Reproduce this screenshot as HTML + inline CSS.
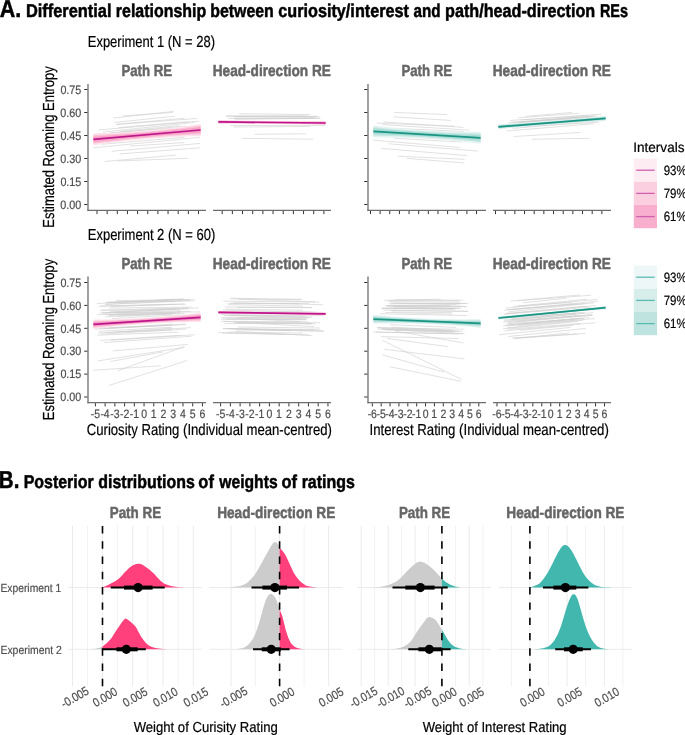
<!DOCTYPE html>
<html><head><meta charset="utf-8"><style>
html,body{margin:0;padding:0;background:#fff;}
svg{display:block;will-change:transform;}
text{font-family:"Liberation Sans", sans-serif;text-rendering:geometricPrecision;}
</style></head><body>
<svg width="685" height="735" viewBox="0 0 685 735">
<rect width="685" height="735" fill="#fff"/>
<text x="-0.34" y="16.7" font-size="24.5" font-weight="bold" stroke="#000" stroke-width="0.5" stroke-linejoin="round" fill="#000" textLength="21.52" lengthAdjust="spacingAndGlyphs">A.</text>
<text x="25.9" y="16.7" font-size="18.5" font-weight="bold" stroke="#000" stroke-width="0.5" stroke-linejoin="round" fill="#000" textLength="85.66" lengthAdjust="spacingAndGlyphs">Differential</text>
<text x="115.85" y="16.7" font-size="18.5" font-weight="bold" stroke="#000" stroke-width="0.5" stroke-linejoin="round" fill="#000" textLength="90.3" lengthAdjust="spacingAndGlyphs">relationship</text>
<text x="210.25" y="16.7" font-size="18.5" font-weight="bold" stroke="#000" stroke-width="0.5" stroke-linejoin="round" fill="#000" textLength="63.53" lengthAdjust="spacingAndGlyphs">between</text>
<text x="278.37" y="16.7" font-size="18.5" font-weight="bold" stroke="#000" stroke-width="0.5" stroke-linejoin="round" fill="#000" textLength="130.53" lengthAdjust="spacingAndGlyphs">curiosity/interest</text>
<text x="413.55" y="16.7" font-size="18.5" font-weight="bold" stroke="#000" stroke-width="0.5" stroke-linejoin="round" fill="#000" textLength="27.05" lengthAdjust="spacingAndGlyphs">and</text>
<text x="445.03" y="16.7" font-size="18.5" font-weight="bold" stroke="#000" stroke-width="0.5" stroke-linejoin="round" fill="#000" textLength="150.17" lengthAdjust="spacingAndGlyphs">path/head-direction</text>
<text x="599.94" y="16.7" font-size="18.5" font-weight="bold" stroke="#000" stroke-width="0.5" stroke-linejoin="round" fill="#000" textLength="28.06" lengthAdjust="spacingAndGlyphs">REs</text>
<text x="-1.18" y="488.3" font-size="24.5" font-weight="bold" stroke="#000" stroke-width="0.5" stroke-linejoin="round" fill="#000" textLength="20.6" lengthAdjust="spacingAndGlyphs">B.</text>
<text x="23.63" y="488.3" font-size="18.5" font-weight="bold" stroke="#000" stroke-width="0.5" stroke-linejoin="round" fill="#000" textLength="70.11" lengthAdjust="spacingAndGlyphs">Posterior</text>
<text x="98.35" y="488.3" font-size="18.5" font-weight="bold" stroke="#000" stroke-width="0.5" stroke-linejoin="round" fill="#000" textLength="96.41" lengthAdjust="spacingAndGlyphs">distributions</text>
<text x="198.36" y="488.3" font-size="18.5" font-weight="bold" stroke="#000" stroke-width="0.5" stroke-linejoin="round" fill="#000" textLength="15.51" lengthAdjust="spacingAndGlyphs">of</text>
<text x="219.25" y="488.3" font-size="18.5" font-weight="bold" stroke="#000" stroke-width="0.5" stroke-linejoin="round" fill="#000" textLength="58.4" lengthAdjust="spacingAndGlyphs">weights</text>
<text x="281.56" y="488.3" font-size="18.5" font-weight="bold" stroke="#000" stroke-width="0.5" stroke-linejoin="round" fill="#000" textLength="15.51" lengthAdjust="spacingAndGlyphs">of</text>
<text x="301.65" y="488.3" font-size="18.5" font-weight="bold" stroke="#000" stroke-width="0.5" stroke-linejoin="round" fill="#000" textLength="53.21" lengthAdjust="spacingAndGlyphs">ratings</text>
<line x1="113.4" y1="118.03" x2="173.84" y2="111.37" stroke="#cdcdcd" stroke-width="0.6"/>
<line x1="123.04" y1="115.93" x2="172.97" y2="112.42" stroke="#cdcdcd" stroke-width="0.6"/>
<line x1="114.28" y1="122.41" x2="174.72" y2="116.28" stroke="#cdcdcd" stroke-width="0.6"/>
<line x1="98.51" y1="129.94" x2="199.25" y2="121.18" stroke="#cdcdcd" stroke-width="0.6"/>
<line x1="102.89" y1="132.05" x2="194.87" y2="122.41" stroke="#cdcdcd" stroke-width="0.6"/>
<line x1="118.66" y1="127.67" x2="188.74" y2="121.53" stroke="#cdcdcd" stroke-width="0.6"/>
<line x1="105.52" y1="133.8" x2="186.11" y2="125.91" stroke="#cdcdcd" stroke-width="0.6"/>
<line x1="93.26" y1="147.81" x2="200.12" y2="137.3" stroke="#cdcdcd" stroke-width="0.6"/>
<line x1="101.14" y1="144.31" x2="184.36" y2="137.3" stroke="#cdcdcd" stroke-width="0.6"/>
<line x1="111.65" y1="151.32" x2="200.12" y2="143.43" stroke="#cdcdcd" stroke-width="0.6"/>
<line x1="119.53" y1="153.95" x2="200.12" y2="147.81" stroke="#cdcdcd" stroke-width="0.6"/>
<line x1="130.05" y1="146.06" x2="184.36" y2="142.56" stroke="#cdcdcd" stroke-width="0.6"/>
<line x1="104.64" y1="161.48" x2="175.6" y2="155.17" stroke="#cdcdcd" stroke-width="0.6"/>
<line x1="117.78" y1="160.95" x2="187.86" y2="158.33" stroke="#cdcdcd" stroke-width="0.6"/>
<line x1="109.64" y1="132.83" x2="188.23" y2="127.23" stroke="#cdcdcd" stroke-width="0.6"/>
<line x1="116.98" y1="124.16" x2="184.74" y2="118.27" stroke="#cdcdcd" stroke-width="0.6"/>
<line x1="119.62" y1="131.51" x2="178.74" y2="125.7" stroke="#cdcdcd" stroke-width="0.6"/>
<line x1="115.88" y1="124.55" x2="197.3" y2="118.45" stroke="#cdcdcd" stroke-width="0.6"/>
<line x1="113.35" y1="137.95" x2="195.31" y2="131.41" stroke="#cdcdcd" stroke-width="0.6"/>
<line x1="115.87" y1="138.26" x2="195.12" y2="132.96" stroke="#cdcdcd" stroke-width="0.6"/>
<path d="M93.4,133.4 L98.76,133.27 L104.12,133.11 L109.48,132.91 L114.84,132.67 L120.2,132.4 L125.56,132.09 L130.92,131.75 L136.28,131.37 L141.64,130.95 L147,130.5 L152.36,130.01 L157.72,129.49 L163.08,128.93 L168.44,128.33 L173.8,127.7 L179.16,127.03 L184.52,126.33 L189.88,125.59 L195.24,124.81 L200.6,124 L200.6,136 L195.24,136.13 L189.88,136.29 L184.52,136.49 L179.16,136.73 L173.8,137 L168.44,137.31 L163.08,137.65 L157.72,138.03 L152.36,138.45 L147,138.9 L141.64,139.39 L136.28,139.91 L130.92,140.47 L125.56,141.07 L120.2,141.7 L114.84,142.37 L109.48,143.07 L104.12,143.81 L98.76,144.59 L93.4,145.4Z" fill="#fde3ec"/>
<path d="M93.4,135 L98.76,134.8 L104.12,134.56 L109.48,134.3 L114.84,134.02 L120.2,133.7 L125.56,133.36 L130.92,132.98 L136.28,132.58 L141.64,132.16 L147,131.7 L152.36,131.22 L157.72,130.7 L163.08,130.16 L168.44,129.6 L173.8,129 L179.16,128.38 L184.52,127.72 L189.88,127.04 L195.24,126.34 L200.6,125.6 L200.6,134.4 L195.24,134.6 L189.88,134.84 L184.52,135.1 L179.16,135.38 L173.8,135.7 L168.44,136.04 L163.08,136.42 L157.72,136.82 L152.36,137.24 L147,137.7 L141.64,138.18 L136.28,138.7 L130.92,139.24 L125.56,139.8 L120.2,140.4 L114.84,141.02 L109.48,141.68 L104.12,142.36 L98.76,143.06 L93.4,143.8Z" fill="#fbc3d8"/>
<path d="M93.4,136.5 L98.76,136.2 L104.12,135.88 L109.48,135.55 L114.84,135.2 L120.2,134.83 L125.56,134.44 L130.92,134.03 L136.28,133.6 L141.64,133.16 L147,132.7 L152.36,132.22 L157.72,131.72 L163.08,131.21 L168.44,130.68 L173.8,130.12 L179.16,129.56 L184.52,128.97 L189.88,128.36 L195.24,127.74 L200.6,127.1 L200.6,132.9 L195.24,133.2 L189.88,133.52 L184.52,133.85 L179.16,134.2 L173.8,134.57 L168.44,134.96 L163.08,135.37 L157.72,135.8 L152.36,136.24 L147,136.7 L141.64,137.18 L136.28,137.68 L130.92,138.19 L125.56,138.72 L120.2,139.28 L114.84,139.84 L109.48,140.43 L104.12,141.04 L98.76,141.66 L93.4,142.3Z" fill="#f7a4c6"/>
<line x1="93.4" y1="139.4" x2="200.6" y2="130" stroke="#be158c" stroke-width="1.7"/>
<line x1="88" y1="84" x2="88" y2="210.9" stroke="#6e6e6e" stroke-width="1.3"/>
<line x1="84.2" y1="204.5" x2="87.4" y2="204.5" stroke="#333333" stroke-width="1"/>
<line x1="84.2" y1="181.5" x2="87.4" y2="181.5" stroke="#333333" stroke-width="1"/>
<line x1="84.2" y1="158.5" x2="87.4" y2="158.5" stroke="#333333" stroke-width="1"/>
<line x1="84.2" y1="135.5" x2="87.4" y2="135.5" stroke="#333333" stroke-width="1"/>
<line x1="84.2" y1="112.5" x2="87.4" y2="112.5" stroke="#333333" stroke-width="1"/>
<line x1="84.2" y1="89.5" x2="87.4" y2="89.5" stroke="#333333" stroke-width="1"/>
<line x1="87.4" y1="210.3" x2="206" y2="210.3" stroke="#6e6e6e" stroke-width="1.3"/>
<line x1="97" y1="210.9" x2="97" y2="214.1" stroke="#333333" stroke-width="1"/>
<line x1="107.15" y1="210.9" x2="107.15" y2="214.1" stroke="#333333" stroke-width="1"/>
<line x1="117.3" y1="210.9" x2="117.3" y2="214.1" stroke="#333333" stroke-width="1"/>
<line x1="127.45" y1="210.9" x2="127.45" y2="214.1" stroke="#333333" stroke-width="1"/>
<line x1="137.6" y1="210.9" x2="137.6" y2="214.1" stroke="#333333" stroke-width="1"/>
<line x1="147.75" y1="210.9" x2="147.75" y2="214.1" stroke="#333333" stroke-width="1"/>
<line x1="157.9" y1="210.9" x2="157.9" y2="214.1" stroke="#333333" stroke-width="1"/>
<line x1="168.05" y1="210.9" x2="168.05" y2="214.1" stroke="#333333" stroke-width="1"/>
<line x1="178.2" y1="210.9" x2="178.2" y2="214.1" stroke="#333333" stroke-width="1"/>
<line x1="188.35" y1="210.9" x2="188.35" y2="214.1" stroke="#333333" stroke-width="1"/>
<line x1="198.5" y1="210.9" x2="198.5" y2="214.1" stroke="#333333" stroke-width="1"/>
<text x="60.35" y="208.7" font-size="12.2" stroke="#4d4d4d" stroke-width="0.2" stroke-linejoin="round" fill="#4d4d4d" textLength="20.97" lengthAdjust="spacingAndGlyphs">0.00</text>
<text x="60.39" y="185.7" font-size="12.2" stroke="#4d4d4d" stroke-width="0.2" stroke-linejoin="round" fill="#4d4d4d" textLength="20.97" lengthAdjust="spacingAndGlyphs">0.15</text>
<text x="60.35" y="162.7" font-size="12.2" stroke="#4d4d4d" stroke-width="0.2" stroke-linejoin="round" fill="#4d4d4d" textLength="20.97" lengthAdjust="spacingAndGlyphs">0.30</text>
<text x="60.39" y="139.7" font-size="12.2" stroke="#4d4d4d" stroke-width="0.2" stroke-linejoin="round" fill="#4d4d4d" textLength="20.97" lengthAdjust="spacingAndGlyphs">0.45</text>
<text x="60.35" y="116.7" font-size="12.2" stroke="#4d4d4d" stroke-width="0.2" stroke-linejoin="round" fill="#4d4d4d" textLength="20.97" lengthAdjust="spacingAndGlyphs">0.60</text>
<text x="60.39" y="93.7" font-size="12.2" stroke="#4d4d4d" stroke-width="0.2" stroke-linejoin="round" fill="#4d4d4d" textLength="20.97" lengthAdjust="spacingAndGlyphs">0.75</text>
<line x1="239.2" y1="113.69" x2="310.36" y2="114.6" stroke="#cdcdcd" stroke-width="0.6"/>
<line x1="227.34" y1="118.25" x2="320.4" y2="118.25" stroke="#cdcdcd" stroke-width="0.6"/>
<line x1="233.72" y1="116.79" x2="315.84" y2="117.34" stroke="#cdcdcd" stroke-width="0.6"/>
<line x1="230.07" y1="125.55" x2="324.96" y2="125.55" stroke="#cdcdcd" stroke-width="0.6"/>
<line x1="233.72" y1="127.01" x2="310.36" y2="126.46" stroke="#cdcdcd" stroke-width="0.6"/>
<line x1="254.71" y1="134.31" x2="305.8" y2="133.76" stroke="#cdcdcd" stroke-width="0.6"/>
<line x1="241.93" y1="138.32" x2="313.1" y2="139.23" stroke="#cdcdcd" stroke-width="0.6"/>
<line x1="233.76" y1="118.69" x2="320.18" y2="118.22" stroke="#cdcdcd" stroke-width="0.6"/>
<line x1="225.47" y1="116.05" x2="307.26" y2="115.83" stroke="#cdcdcd" stroke-width="0.6"/>
<line x1="226.57" y1="116.12" x2="319.21" y2="116.35" stroke="#cdcdcd" stroke-width="0.6"/>
<line x1="235.21" y1="119.25" x2="313.32" y2="118.47" stroke="#cdcdcd" stroke-width="0.6"/>
<line x1="236.97" y1="116.35" x2="317.72" y2="116.61" stroke="#cdcdcd" stroke-width="0.6"/>
<path d="M218.4,119.9 L223.76,120.05 L229.12,120.19 L234.48,120.32 L239.84,120.44 L245.2,120.55 L250.56,120.65 L255.92,120.74 L261.28,120.82 L266.64,120.89 L272,120.95 L277.36,121 L282.72,121.04 L288.08,121.07 L293.44,121.09 L298.8,121.1 L304.16,121.1 L309.52,121.09 L314.88,121.07 L320.24,121.04 L325.6,121 L325.6,125 L320.24,124.85 L314.88,124.71 L309.52,124.58 L304.16,124.46 L298.8,124.35 L293.44,124.25 L288.08,124.16 L282.72,124.08 L277.36,124.01 L272,123.95 L266.64,123.9 L261.28,123.86 L255.92,123.83 L250.56,123.81 L245.2,123.8 L239.84,123.8 L234.48,123.81 L229.12,123.83 L223.76,123.86 L218.4,123.9Z" fill="#fde3ec"/>
<path d="M218.4,120.5 L223.76,120.61 L229.12,120.72 L234.48,120.82 L239.84,120.91 L245.2,121 L250.56,121.08 L255.92,121.16 L261.28,121.23 L266.64,121.29 L272,121.35 L277.36,121.4 L282.72,121.45 L288.08,121.49 L293.44,121.52 L298.8,121.55 L304.16,121.57 L309.52,121.59 L314.88,121.6 L320.24,121.6 L325.6,121.6 L325.6,124.4 L320.24,124.29 L314.88,124.18 L309.52,124.08 L304.16,123.99 L298.8,123.9 L293.44,123.82 L288.08,123.74 L282.72,123.67 L277.36,123.61 L272,123.55 L266.64,123.5 L261.28,123.45 L255.92,123.41 L250.56,123.38 L245.2,123.35 L239.84,123.33 L234.48,123.31 L229.12,123.3 L223.76,123.3 L218.4,123.3Z" fill="#fbc3d8"/>
<path d="M218.4,120.9 L223.76,120.99 L229.12,121.08 L234.48,121.17 L239.84,121.25 L245.2,121.33 L250.56,121.4 L255.92,121.47 L261.28,121.53 L266.64,121.59 L272,121.65 L277.36,121.7 L282.72,121.75 L288.08,121.8 L293.44,121.84 L298.8,121.88 L304.16,121.91 L309.52,121.94 L314.88,121.96 L320.24,121.98 L325.6,122 L325.6,124 L320.24,123.91 L314.88,123.82 L309.52,123.73 L304.16,123.65 L298.8,123.57 L293.44,123.5 L288.08,123.43 L282.72,123.37 L277.36,123.31 L272,123.25 L266.64,123.2 L261.28,123.15 L255.92,123.1 L250.56,123.06 L245.2,123.03 L239.84,122.99 L234.48,122.96 L229.12,122.94 L223.76,122.92 L218.4,122.9Z" fill="#f7a4c6"/>
<line x1="218.4" y1="121.9" x2="325.6" y2="123" stroke="#be158c" stroke-width="1.7"/>
<line x1="213" y1="210.3" x2="331" y2="210.3" stroke="#6e6e6e" stroke-width="1.3"/>
<line x1="222.2" y1="210.9" x2="222.2" y2="214.1" stroke="#333333" stroke-width="1"/>
<line x1="232.37" y1="210.9" x2="232.37" y2="214.1" stroke="#333333" stroke-width="1"/>
<line x1="242.54" y1="210.9" x2="242.54" y2="214.1" stroke="#333333" stroke-width="1"/>
<line x1="252.71" y1="210.9" x2="252.71" y2="214.1" stroke="#333333" stroke-width="1"/>
<line x1="262.88" y1="210.9" x2="262.88" y2="214.1" stroke="#333333" stroke-width="1"/>
<line x1="273.05" y1="210.9" x2="273.05" y2="214.1" stroke="#333333" stroke-width="1"/>
<line x1="283.22" y1="210.9" x2="283.22" y2="214.1" stroke="#333333" stroke-width="1"/>
<line x1="293.39" y1="210.9" x2="293.39" y2="214.1" stroke="#333333" stroke-width="1"/>
<line x1="303.56" y1="210.9" x2="303.56" y2="214.1" stroke="#333333" stroke-width="1"/>
<line x1="313.73" y1="210.9" x2="313.73" y2="214.1" stroke="#333333" stroke-width="1"/>
<line x1="323.9" y1="210.9" x2="323.9" y2="214.1" stroke="#333333" stroke-width="1"/>
<line x1="394.2" y1="112.41" x2="447.12" y2="114.6" stroke="#cdcdcd" stroke-width="0.6"/>
<line x1="393.28" y1="116.79" x2="450.77" y2="120.44" stroke="#cdcdcd" stroke-width="0.6"/>
<line x1="383.25" y1="121.9" x2="463.54" y2="127.37" stroke="#cdcdcd" stroke-width="0.6"/>
<line x1="382.34" y1="124.64" x2="469.01" y2="130.11" stroke="#cdcdcd" stroke-width="0.6"/>
<line x1="394.2" y1="138.32" x2="461.72" y2="141.97" stroke="#cdcdcd" stroke-width="0.6"/>
<line x1="373.21" y1="140.15" x2="459.89" y2="147.45" stroke="#cdcdcd" stroke-width="0.6"/>
<line x1="388.72" y1="143.8" x2="478.14" y2="151.09" stroke="#cdcdcd" stroke-width="0.6"/>
<line x1="381.42" y1="148.36" x2="467.19" y2="155.66" stroke="#cdcdcd" stroke-width="0.6"/>
<line x1="397.85" y1="156.2" x2="464.45" y2="159.31" stroke="#cdcdcd" stroke-width="0.6"/>
<line x1="406.97" y1="158.39" x2="464.45" y2="162.96" stroke="#cdcdcd" stroke-width="0.6"/>
<line x1="376.32" y1="132.94" x2="470.63" y2="136.72" stroke="#cdcdcd" stroke-width="0.6"/>
<line x1="376.49" y1="131.93" x2="457.44" y2="136.75" stroke="#cdcdcd" stroke-width="0.6"/>
<line x1="394.51" y1="128.39" x2="463.83" y2="131.53" stroke="#cdcdcd" stroke-width="0.6"/>
<line x1="384.58" y1="133.75" x2="469.14" y2="138.46" stroke="#cdcdcd" stroke-width="0.6"/>
<line x1="376.55" y1="123.11" x2="454.13" y2="126.23" stroke="#cdcdcd" stroke-width="0.6"/>
<path d="M373.4,125.4 L378.76,126.06 L384.12,126.69 L389.48,127.28 L394.84,127.83 L400.2,128.35 L405.56,128.83 L410.92,129.28 L416.28,129.69 L421.64,130.06 L427,130.4 L432.36,130.7 L437.72,130.97 L443.08,131.2 L448.44,131.39 L453.8,131.55 L459.16,131.67 L464.52,131.76 L469.88,131.81 L475.24,131.82 L480.6,131.8 L480.6,143.8 L475.24,143.14 L469.88,142.51 L464.52,141.92 L459.16,141.37 L453.8,140.85 L448.44,140.37 L443.08,139.92 L437.72,139.51 L432.36,139.14 L427,138.8 L421.64,138.5 L416.28,138.23 L410.92,138 L405.56,137.81 L400.2,137.65 L394.84,137.53 L389.48,137.44 L384.12,137.39 L378.76,137.38 L373.4,137.4Z" fill="#e5f4f2"/>
<path d="M373.4,127 L378.76,127.59 L384.12,128.14 L389.48,128.67 L394.84,129.18 L400.2,129.65 L405.56,130.1 L410.92,130.51 L416.28,130.9 L421.64,131.27 L427,131.6 L432.36,131.91 L437.72,132.18 L443.08,132.43 L448.44,132.66 L453.8,132.85 L459.16,133.02 L464.52,133.15 L469.88,133.26 L475.24,133.35 L480.6,133.4 L480.6,142.2 L475.24,141.61 L469.88,141.06 L464.52,140.53 L459.16,140.02 L453.8,139.55 L448.44,139.1 L443.08,138.69 L437.72,138.3 L432.36,137.93 L427,137.6 L421.64,137.29 L416.28,137.02 L410.92,136.77 L405.56,136.54 L400.2,136.35 L394.84,136.18 L389.48,136.05 L384.12,135.94 L378.76,135.85 L373.4,135.8Z" fill="#c8e8e4"/>
<path d="M373.4,128.5 L378.76,128.99 L384.12,129.46 L389.48,129.92 L394.84,130.36 L400.2,130.78 L405.56,131.18 L410.92,131.56 L416.28,131.92 L421.64,132.27 L427,132.6 L432.36,132.91 L437.72,133.2 L443.08,133.48 L448.44,133.74 L453.8,133.98 L459.16,134.2 L464.52,134.4 L469.88,134.58 L475.24,134.75 L480.6,134.9 L480.6,140.7 L475.24,140.21 L469.88,139.74 L464.52,139.28 L459.16,138.84 L453.8,138.43 L448.44,138.02 L443.08,137.64 L437.72,137.28 L432.36,136.93 L427,136.6 L421.64,136.29 L416.28,136 L410.92,135.72 L405.56,135.46 L400.2,135.22 L394.84,135 L389.48,134.8 L384.12,134.62 L378.76,134.45 L373.4,134.3Z" fill="#a9dcd5"/>
<line x1="373.4" y1="131.4" x2="480.6" y2="137.8" stroke="#1a9483" stroke-width="1.7"/>
<line x1="368" y1="84" x2="368" y2="210.9" stroke="#6e6e6e" stroke-width="1.3"/>
<line x1="364.2" y1="204.5" x2="367.4" y2="204.5" stroke="#333333" stroke-width="1"/>
<line x1="364.2" y1="181.5" x2="367.4" y2="181.5" stroke="#333333" stroke-width="1"/>
<line x1="364.2" y1="158.5" x2="367.4" y2="158.5" stroke="#333333" stroke-width="1"/>
<line x1="364.2" y1="135.5" x2="367.4" y2="135.5" stroke="#333333" stroke-width="1"/>
<line x1="364.2" y1="112.5" x2="367.4" y2="112.5" stroke="#333333" stroke-width="1"/>
<line x1="364.2" y1="89.5" x2="367.4" y2="89.5" stroke="#333333" stroke-width="1"/>
<line x1="367.4" y1="210.3" x2="486" y2="210.3" stroke="#6e6e6e" stroke-width="1.3"/>
<line x1="370.5" y1="210.9" x2="370.5" y2="214.1" stroke="#333333" stroke-width="1"/>
<line x1="380.14" y1="210.9" x2="380.14" y2="214.1" stroke="#333333" stroke-width="1"/>
<line x1="389.78" y1="210.9" x2="389.78" y2="214.1" stroke="#333333" stroke-width="1"/>
<line x1="399.42" y1="210.9" x2="399.42" y2="214.1" stroke="#333333" stroke-width="1"/>
<line x1="409.06" y1="210.9" x2="409.06" y2="214.1" stroke="#333333" stroke-width="1"/>
<line x1="418.7" y1="210.9" x2="418.7" y2="214.1" stroke="#333333" stroke-width="1"/>
<line x1="428.34" y1="210.9" x2="428.34" y2="214.1" stroke="#333333" stroke-width="1"/>
<line x1="437.98" y1="210.9" x2="437.98" y2="214.1" stroke="#333333" stroke-width="1"/>
<line x1="447.62" y1="210.9" x2="447.62" y2="214.1" stroke="#333333" stroke-width="1"/>
<line x1="457.26" y1="210.9" x2="457.26" y2="214.1" stroke="#333333" stroke-width="1"/>
<line x1="466.9" y1="210.9" x2="466.9" y2="214.1" stroke="#333333" stroke-width="1"/>
<line x1="476.54" y1="210.9" x2="476.54" y2="214.1" stroke="#333333" stroke-width="1"/>
<line x1="525.58" y1="116.42" x2="572.12" y2="112.41" stroke="#cdcdcd" stroke-width="0.6"/>
<line x1="510.07" y1="120.44" x2="601.31" y2="114.23" stroke="#cdcdcd" stroke-width="0.6"/>
<line x1="521.02" y1="120.07" x2="588.54" y2="115.51" stroke="#cdcdcd" stroke-width="0.6"/>
<line x1="506.42" y1="131.02" x2="594.01" y2="123.72" stroke="#cdcdcd" stroke-width="0.6"/>
<line x1="513.72" y1="136.5" x2="580.33" y2="132.48" stroke="#cdcdcd" stroke-width="0.6"/>
<line x1="531.97" y1="139.23" x2="589.45" y2="138.32" stroke="#cdcdcd" stroke-width="0.6"/>
<line x1="519.86" y1="122.02" x2="579.13" y2="116.83" stroke="#cdcdcd" stroke-width="0.6"/>
<line x1="510.38" y1="122.22" x2="590.16" y2="117.25" stroke="#cdcdcd" stroke-width="0.6"/>
<line x1="518.51" y1="117.7" x2="578.73" y2="113.4" stroke="#cdcdcd" stroke-width="0.6"/>
<line x1="507.37" y1="123.2" x2="596.81" y2="115.87" stroke="#cdcdcd" stroke-width="0.6"/>
<line x1="524.56" y1="126.51" x2="598.09" y2="122.3" stroke="#cdcdcd" stroke-width="0.6"/>
<line x1="519.52" y1="124.31" x2="593.09" y2="117.99" stroke="#cdcdcd" stroke-width="0.6"/>
<line x1="519.18" y1="126.69" x2="588.79" y2="120.62" stroke="#cdcdcd" stroke-width="0.6"/>
<line x1="512.86" y1="123.35" x2="602.15" y2="116.78" stroke="#cdcdcd" stroke-width="0.6"/>
<line x1="512.63" y1="128.4" x2="600.96" y2="120.86" stroke="#cdcdcd" stroke-width="0.6"/>
<line x1="518.47" y1="122.58" x2="593.75" y2="115.81" stroke="#cdcdcd" stroke-width="0.6"/>
<line x1="512.38" y1="124.94" x2="593.11" y2="117.9" stroke="#cdcdcd" stroke-width="0.6"/>
<path d="M498.4,124.2 L503.76,123.93 L509.12,123.65 L514.48,123.35 L519.84,123.03 L525.2,122.7 L530.56,122.35 L535.92,121.99 L541.28,121.61 L546.64,121.21 L552,120.8 L557.36,120.37 L562.72,119.93 L568.08,119.47 L573.44,118.99 L578.8,118.5 L584.16,117.99 L589.52,117.47 L594.88,116.93 L600.24,116.37 L605.6,115.8 L605.6,121 L600.24,121.27 L594.88,121.55 L589.52,121.85 L584.16,122.17 L578.8,122.5 L573.44,122.85 L568.08,123.21 L562.72,123.59 L557.36,123.99 L552,124.4 L546.64,124.83 L541.28,125.27 L535.92,125.73 L530.56,126.21 L525.2,126.7 L519.84,127.21 L514.48,127.73 L509.12,128.27 L503.76,128.83 L498.4,129.4Z" fill="#e5f4f2"/>
<path d="M498.4,125 L503.76,124.67 L509.12,124.34 L514.48,123.99 L519.84,123.64 L525.2,123.28 L530.56,122.9 L535.92,122.52 L541.28,122.12 L546.64,121.71 L552,121.3 L557.36,120.88 L562.72,120.44 L568.08,120 L573.44,119.54 L578.8,119.08 L584.16,118.6 L589.52,118.12 L594.88,117.62 L600.24,117.12 L605.6,116.6 L605.6,120.2 L600.24,120.53 L594.88,120.86 L589.52,121.21 L584.16,121.56 L578.8,121.92 L573.44,122.3 L568.08,122.69 L562.72,123.08 L557.36,123.49 L552,123.9 L546.64,124.33 L541.28,124.76 L535.92,125.2 L530.56,125.66 L525.2,126.12 L519.84,126.6 L514.48,127.08 L509.12,127.58 L503.76,128.09 L498.4,128.6Z" fill="#c8e8e4"/>
<path d="M498.4,125.6 L503.76,125.24 L509.12,124.87 L514.48,124.49 L519.84,124.11 L525.2,123.73 L530.56,123.33 L535.92,122.93 L541.28,122.53 L546.64,122.12 L552,121.7 L557.36,121.28 L562.72,120.85 L568.08,120.41 L573.44,119.97 L578.8,119.53 L584.16,119.07 L589.52,118.61 L594.88,118.15 L600.24,117.68 L605.6,117.2 L605.6,119.6 L600.24,119.96 L594.88,120.33 L589.52,120.71 L584.16,121.09 L578.8,121.47 L573.44,121.87 L568.08,122.27 L562.72,122.67 L557.36,123.08 L552,123.5 L546.64,123.92 L541.28,124.35 L535.92,124.79 L530.56,125.23 L525.2,125.67 L519.84,126.13 L514.48,126.59 L509.12,127.05 L503.76,127.52 L498.4,128Z" fill="#a9dcd5"/>
<line x1="498.4" y1="126.8" x2="605.6" y2="118.4" stroke="#1a9483" stroke-width="1.7"/>
<line x1="493" y1="210.3" x2="611" y2="210.3" stroke="#6e6e6e" stroke-width="1.3"/>
<line x1="495.5" y1="210.9" x2="495.5" y2="214.1" stroke="#333333" stroke-width="1"/>
<line x1="505.17" y1="210.9" x2="505.17" y2="214.1" stroke="#333333" stroke-width="1"/>
<line x1="514.84" y1="210.9" x2="514.84" y2="214.1" stroke="#333333" stroke-width="1"/>
<line x1="524.51" y1="210.9" x2="524.51" y2="214.1" stroke="#333333" stroke-width="1"/>
<line x1="534.18" y1="210.9" x2="534.18" y2="214.1" stroke="#333333" stroke-width="1"/>
<line x1="543.85" y1="210.9" x2="543.85" y2="214.1" stroke="#333333" stroke-width="1"/>
<line x1="553.52" y1="210.9" x2="553.52" y2="214.1" stroke="#333333" stroke-width="1"/>
<line x1="563.19" y1="210.9" x2="563.19" y2="214.1" stroke="#333333" stroke-width="1"/>
<line x1="572.86" y1="210.9" x2="572.86" y2="214.1" stroke="#333333" stroke-width="1"/>
<line x1="582.53" y1="210.9" x2="582.53" y2="214.1" stroke="#333333" stroke-width="1"/>
<line x1="592.2" y1="210.9" x2="592.2" y2="214.1" stroke="#333333" stroke-width="1"/>
<line x1="601.87" y1="210.9" x2="601.87" y2="214.1" stroke="#333333" stroke-width="1"/>
<text x="121.41" y="76.4" font-size="16" font-weight="bold" stroke="#666666" stroke-width="0.5" stroke-linejoin="round" fill="#666666" textLength="50.8" lengthAdjust="spacingAndGlyphs">Path RE</text>
<text x="212.74" y="76.4" font-size="16" font-weight="bold" stroke="#666666" stroke-width="0.5" stroke-linejoin="round" fill="#666666" textLength="118.14" lengthAdjust="spacingAndGlyphs">Head-direction RE</text>
<text x="401.41" y="76.4" font-size="16" font-weight="bold" stroke="#666666" stroke-width="0.5" stroke-linejoin="round" fill="#666666" textLength="50.8" lengthAdjust="spacingAndGlyphs">Path RE</text>
<text x="492.74" y="76.4" font-size="16" font-weight="bold" stroke="#666666" stroke-width="0.5" stroke-linejoin="round" fill="#666666" textLength="118.14" lengthAdjust="spacingAndGlyphs">Head-direction RE</text>
<text x="87.74" y="46.9" font-size="16" stroke="#000" stroke-width="0.2" stroke-linejoin="round" fill="#000" textLength="127.27" lengthAdjust="spacingAndGlyphs">Experiment 1 (N = 28)</text>
<text transform="translate(53.8,226.6) rotate(-90)" x="-1.06" y="0" font-size="16" fill="#000" stroke="#000" stroke-width="0.2" textLength="161.39" lengthAdjust="spacingAndGlyphs">Estimated Roaming Entropy</text>
<line x1="116.03" y1="300.67" x2="189.61" y2="299.62" stroke="#cdcdcd" stroke-width="0.6"/>
<line x1="105.52" y1="302.42" x2="175.6" y2="301.37" stroke="#cdcdcd" stroke-width="0.6"/>
<line x1="100.26" y1="305.93" x2="186.11" y2="304.18" stroke="#cdcdcd" stroke-width="0.6"/>
<line x1="109.02" y1="308.03" x2="191.36" y2="307.15" stroke="#cdcdcd" stroke-width="0.6"/>
<line x1="100.26" y1="310.66" x2="179.1" y2="308.91" stroke="#cdcdcd" stroke-width="0.6"/>
<line x1="102.02" y1="312.94" x2="200.12" y2="311.89" stroke="#cdcdcd" stroke-width="0.6"/>
<line x1="105.52" y1="316.79" x2="172.09" y2="314.16" stroke="#cdcdcd" stroke-width="0.6"/>
<line x1="109.02" y1="315.04" x2="175.6" y2="313.29" stroke="#cdcdcd" stroke-width="0.6"/>
<line x1="95.01" y1="329.05" x2="186.11" y2="324.67" stroke="#cdcdcd" stroke-width="0.6"/>
<line x1="100.26" y1="334.31" x2="186.11" y2="329.05" stroke="#cdcdcd" stroke-width="0.6"/>
<line x1="107.27" y1="332.56" x2="172.09" y2="328.18" stroke="#cdcdcd" stroke-width="0.6"/>
<line x1="100.26" y1="340.44" x2="180.85" y2="335.19" stroke="#cdcdcd" stroke-width="0.6"/>
<line x1="112.53" y1="350.95" x2="187.86" y2="344.47" stroke="#cdcdcd" stroke-width="0.6"/>
<line x1="97.64" y1="360.94" x2="184.36" y2="347.45" stroke="#cdcdcd" stroke-width="0.6"/>
<line x1="110.78" y1="361.46" x2="163.33" y2="351.83" stroke="#cdcdcd" stroke-width="0.6"/>
<line x1="93.26" y1="370.22" x2="160.7" y2="365.84" stroke="#cdcdcd" stroke-width="0.6"/>
<line x1="117.78" y1="370.75" x2="184.36" y2="346.57" stroke="#cdcdcd" stroke-width="0.6"/>
<line x1="109.02" y1="385.47" x2="186.98" y2="360.59" stroke="#cdcdcd" stroke-width="0.6"/>
<line x1="103.12" y1="313.15" x2="176.22" y2="308.98" stroke="#cdcdcd" stroke-width="0.6"/>
<line x1="107.79" y1="302.46" x2="182.24" y2="299.51" stroke="#cdcdcd" stroke-width="0.6"/>
<line x1="96.82" y1="303.65" x2="184.14" y2="298.73" stroke="#cdcdcd" stroke-width="0.6"/>
<line x1="105.34" y1="304.4" x2="195.15" y2="299.81" stroke="#cdcdcd" stroke-width="0.6"/>
<line x1="109.8" y1="311.77" x2="198.54" y2="307.85" stroke="#cdcdcd" stroke-width="0.6"/>
<line x1="117.48" y1="315.95" x2="173.3" y2="313.24" stroke="#cdcdcd" stroke-width="0.6"/>
<line x1="99.17" y1="306.29" x2="175.3" y2="304.2" stroke="#cdcdcd" stroke-width="0.6"/>
<line x1="99.98" y1="312.85" x2="188.28" y2="308.87" stroke="#cdcdcd" stroke-width="0.6"/>
<line x1="108.05" y1="302.71" x2="173.76" y2="299.31" stroke="#cdcdcd" stroke-width="0.6"/>
<line x1="110.97" y1="306.68" x2="183.97" y2="304.01" stroke="#cdcdcd" stroke-width="0.6"/>
<line x1="105.97" y1="314.7" x2="180.39" y2="312.31" stroke="#cdcdcd" stroke-width="0.6"/>
<line x1="101.37" y1="310.01" x2="188.08" y2="307.84" stroke="#cdcdcd" stroke-width="0.6"/>
<line x1="112.05" y1="318.54" x2="180.06" y2="314.78" stroke="#cdcdcd" stroke-width="0.6"/>
<line x1="105.2" y1="304.36" x2="193.2" y2="300.8" stroke="#cdcdcd" stroke-width="0.6"/>
<line x1="96.86" y1="314.74" x2="190.71" y2="311.26" stroke="#cdcdcd" stroke-width="0.6"/>
<line x1="115.26" y1="313.01" x2="180.78" y2="310.63" stroke="#cdcdcd" stroke-width="0.6"/>
<line x1="108.76" y1="315.12" x2="184.77" y2="313.44" stroke="#cdcdcd" stroke-width="0.6"/>
<line x1="106.43" y1="302.38" x2="190.6" y2="299.69" stroke="#cdcdcd" stroke-width="0.6"/>
<line x1="111.18" y1="340.26" x2="194.79" y2="334.76" stroke="#cdcdcd" stroke-width="0.6"/>
<line x1="104.64" y1="328.6" x2="185.06" y2="324.03" stroke="#cdcdcd" stroke-width="0.6"/>
<line x1="99.2" y1="328.27" x2="168.51" y2="325.38" stroke="#cdcdcd" stroke-width="0.6"/>
<line x1="98.23" y1="332.82" x2="172.43" y2="330.12" stroke="#cdcdcd" stroke-width="0.6"/>
<line x1="97.01" y1="335.15" x2="178.48" y2="332.23" stroke="#cdcdcd" stroke-width="0.6"/>
<line x1="115.48" y1="332.13" x2="190.92" y2="327.66" stroke="#cdcdcd" stroke-width="0.6"/>
<line x1="103.97" y1="342.58" x2="191.53" y2="336.24" stroke="#cdcdcd" stroke-width="0.6"/>
<line x1="99.41" y1="331.29" x2="171.96" y2="327.24" stroke="#cdcdcd" stroke-width="0.6"/>
<line x1="109.73" y1="327.92" x2="172.88" y2="324.19" stroke="#cdcdcd" stroke-width="0.6"/>
<path d="M93.4,319.6 L98.76,319.57 L104.12,319.51 L109.48,319.42 L114.84,319.29 L120.2,319.12 L125.56,318.93 L130.92,318.7 L136.28,318.43 L141.64,318.13 L147,317.8 L152.36,317.43 L157.72,317.03 L163.08,316.6 L168.44,316.13 L173.8,315.62 L179.16,315.09 L184.52,314.52 L189.88,313.91 L195.24,313.27 L200.6,312.6 L200.6,322 L195.24,322.03 L189.88,322.09 L184.52,322.18 L179.16,322.31 L173.8,322.48 L168.44,322.67 L163.08,322.9 L157.72,323.17 L152.36,323.47 L147,323.8 L141.64,324.17 L136.28,324.57 L130.92,325 L125.56,325.47 L120.2,325.98 L114.84,326.51 L109.48,327.08 L104.12,327.69 L98.76,328.33 L93.4,329Z" fill="#fde3ec"/>
<path d="M93.4,320.9 L98.76,320.78 L104.12,320.63 L109.48,320.46 L114.84,320.27 L120.2,320.05 L125.56,319.81 L130.92,319.54 L136.28,319.25 L141.64,318.94 L147,318.6 L152.36,318.24 L157.72,317.85 L163.08,317.44 L168.44,317.01 L173.8,316.55 L179.16,316.07 L184.52,315.56 L189.88,315.03 L195.24,314.48 L200.6,313.9 L200.6,320.7 L195.24,320.82 L189.88,320.97 L184.52,321.14 L179.16,321.33 L173.8,321.55 L168.44,321.79 L163.08,322.06 L157.72,322.35 L152.36,322.66 L147,323 L141.64,323.36 L136.28,323.75 L130.92,324.16 L125.56,324.59 L120.2,325.05 L114.84,325.53 L109.48,326.04 L104.12,326.57 L98.76,327.12 L93.4,327.7Z" fill="#fbc3d8"/>
<path d="M93.4,322 L98.76,321.8 L104.12,321.59 L109.48,321.36 L114.84,321.11 L120.2,320.85 L125.56,320.57 L130.92,320.28 L136.28,319.97 L141.64,319.64 L147,319.3 L152.36,318.94 L157.72,318.57 L163.08,318.18 L168.44,317.77 L173.8,317.35 L179.16,316.91 L184.52,316.46 L189.88,315.99 L195.24,315.5 L200.6,315 L200.6,319.6 L195.24,319.8 L189.88,320.01 L184.52,320.24 L179.16,320.49 L173.8,320.75 L168.44,321.03 L163.08,321.32 L157.72,321.63 L152.36,321.96 L147,322.3 L141.64,322.66 L136.28,323.03 L130.92,323.42 L125.56,323.83 L120.2,324.25 L114.84,324.69 L109.48,325.14 L104.12,325.61 L98.76,326.1 L93.4,326.6Z" fill="#f7a4c6"/>
<line x1="93.4" y1="324.3" x2="200.6" y2="317.3" stroke="#be158c" stroke-width="1.7"/>
<line x1="88" y1="276.6" x2="88" y2="403.2" stroke="#6e6e6e" stroke-width="1.3"/>
<line x1="84.2" y1="397" x2="87.4" y2="397" stroke="#333333" stroke-width="1"/>
<line x1="84.2" y1="374.1" x2="87.4" y2="374.1" stroke="#333333" stroke-width="1"/>
<line x1="84.2" y1="351.2" x2="87.4" y2="351.2" stroke="#333333" stroke-width="1"/>
<line x1="84.2" y1="328.3" x2="87.4" y2="328.3" stroke="#333333" stroke-width="1"/>
<line x1="84.2" y1="305.4" x2="87.4" y2="305.4" stroke="#333333" stroke-width="1"/>
<line x1="84.2" y1="282.5" x2="87.4" y2="282.5" stroke="#333333" stroke-width="1"/>
<line x1="87.4" y1="402.6" x2="206" y2="402.6" stroke="#6e6e6e" stroke-width="1.3"/>
<line x1="95.4" y1="403.2" x2="95.4" y2="406.4" stroke="#333333" stroke-width="1"/>
<line x1="105.13" y1="403.2" x2="105.13" y2="406.4" stroke="#333333" stroke-width="1"/>
<line x1="114.86" y1="403.2" x2="114.86" y2="406.4" stroke="#333333" stroke-width="1"/>
<line x1="124.59" y1="403.2" x2="124.59" y2="406.4" stroke="#333333" stroke-width="1"/>
<line x1="134.32" y1="403.2" x2="134.32" y2="406.4" stroke="#333333" stroke-width="1"/>
<line x1="144.05" y1="403.2" x2="144.05" y2="406.4" stroke="#333333" stroke-width="1"/>
<line x1="153.78" y1="403.2" x2="153.78" y2="406.4" stroke="#333333" stroke-width="1"/>
<line x1="163.51" y1="403.2" x2="163.51" y2="406.4" stroke="#333333" stroke-width="1"/>
<line x1="173.24" y1="403.2" x2="173.24" y2="406.4" stroke="#333333" stroke-width="1"/>
<line x1="182.97" y1="403.2" x2="182.97" y2="406.4" stroke="#333333" stroke-width="1"/>
<line x1="192.7" y1="403.2" x2="192.7" y2="406.4" stroke="#333333" stroke-width="1"/>
<line x1="202.43" y1="403.2" x2="202.43" y2="406.4" stroke="#333333" stroke-width="1"/>
<text x="90.72" y="417.8" font-size="12.2" stroke="#4d4d4d" stroke-width="0.2" stroke-linejoin="round" fill="#4d4d4d" textLength="9.33" lengthAdjust="spacingAndGlyphs">-5</text>
<text x="100.39" y="417.8" font-size="12.2" stroke="#4d4d4d" stroke-width="0.2" stroke-linejoin="round" fill="#4d4d4d" textLength="9.33" lengthAdjust="spacingAndGlyphs">-4</text>
<text x="110.19" y="417.8" font-size="12.2" stroke="#4d4d4d" stroke-width="0.2" stroke-linejoin="round" fill="#4d4d4d" textLength="9.33" lengthAdjust="spacingAndGlyphs">-3</text>
<text x="119.96" y="417.8" font-size="12.2" stroke="#4d4d4d" stroke-width="0.2" stroke-linejoin="round" fill="#4d4d4d" textLength="9.33" lengthAdjust="spacingAndGlyphs">-2</text>
<text x="129.68" y="417.8" font-size="12.2" stroke="#4d4d4d" stroke-width="0.2" stroke-linejoin="round" fill="#4d4d4d" textLength="9.33" lengthAdjust="spacingAndGlyphs">-1</text>
<text x="141.13" y="417.8" font-size="12.2" stroke="#4d4d4d" stroke-width="0.2" stroke-linejoin="round" fill="#4d4d4d" textLength="5.84" lengthAdjust="spacingAndGlyphs">0</text>
<text x="150.72" y="417.8" font-size="12.2" stroke="#4d4d4d" stroke-width="0.2" stroke-linejoin="round" fill="#4d4d4d" textLength="5.84" lengthAdjust="spacingAndGlyphs">1</text>
<text x="160.59" y="417.8" font-size="12.2" stroke="#4d4d4d" stroke-width="0.2" stroke-linejoin="round" fill="#4d4d4d" textLength="5.84" lengthAdjust="spacingAndGlyphs">2</text>
<text x="170.35" y="417.8" font-size="12.2" stroke="#4d4d4d" stroke-width="0.2" stroke-linejoin="round" fill="#4d4d4d" textLength="5.84" lengthAdjust="spacingAndGlyphs">3</text>
<text x="180.09" y="417.8" font-size="12.2" stroke="#4d4d4d" stroke-width="0.2" stroke-linejoin="round" fill="#4d4d4d" textLength="5.84" lengthAdjust="spacingAndGlyphs">4</text>
<text x="189.79" y="417.8" font-size="12.2" stroke="#4d4d4d" stroke-width="0.2" stroke-linejoin="round" fill="#4d4d4d" textLength="5.84" lengthAdjust="spacingAndGlyphs">5</text>
<text x="199.48" y="417.8" font-size="12.2" stroke="#4d4d4d" stroke-width="0.2" stroke-linejoin="round" fill="#4d4d4d" textLength="5.84" lengthAdjust="spacingAndGlyphs">6</text>
<text x="60.35" y="401.2" font-size="12.2" stroke="#4d4d4d" stroke-width="0.2" stroke-linejoin="round" fill="#4d4d4d" textLength="20.97" lengthAdjust="spacingAndGlyphs">0.00</text>
<text x="60.39" y="378.3" font-size="12.2" stroke="#4d4d4d" stroke-width="0.2" stroke-linejoin="round" fill="#4d4d4d" textLength="20.97" lengthAdjust="spacingAndGlyphs">0.15</text>
<text x="60.35" y="355.4" font-size="12.2" stroke="#4d4d4d" stroke-width="0.2" stroke-linejoin="round" fill="#4d4d4d" textLength="20.97" lengthAdjust="spacingAndGlyphs">0.30</text>
<text x="60.39" y="332.5" font-size="12.2" stroke="#4d4d4d" stroke-width="0.2" stroke-linejoin="round" fill="#4d4d4d" textLength="20.97" lengthAdjust="spacingAndGlyphs">0.45</text>
<text x="60.35" y="309.6" font-size="12.2" stroke="#4d4d4d" stroke-width="0.2" stroke-linejoin="round" fill="#4d4d4d" textLength="20.97" lengthAdjust="spacingAndGlyphs">0.60</text>
<text x="60.39" y="286.7" font-size="12.2" stroke="#4d4d4d" stroke-width="0.2" stroke-linejoin="round" fill="#4d4d4d" textLength="20.97" lengthAdjust="spacingAndGlyphs">0.75</text>
<line x1="238.28" y1="299.16" x2="314.93" y2="301.9" stroke="#cdcdcd" stroke-width="0.6"/>
<line x1="227.34" y1="303.72" x2="299.42" y2="303.72" stroke="#cdcdcd" stroke-width="0.6"/>
<line x1="224.6" y1="307.01" x2="312.19" y2="307.37" stroke="#cdcdcd" stroke-width="0.6"/>
<line x1="225.51" y1="309.2" x2="303.07" y2="310.11" stroke="#cdcdcd" stroke-width="0.6"/>
<line x1="223.69" y1="315.58" x2="312.19" y2="317.41" stroke="#cdcdcd" stroke-width="0.6"/>
<line x1="220.95" y1="319.23" x2="305.8" y2="319.23" stroke="#cdcdcd" stroke-width="0.6"/>
<line x1="235.55" y1="318.32" x2="308.54" y2="321.97" stroke="#cdcdcd" stroke-width="0.6"/>
<line x1="224.6" y1="323.43" x2="311.28" y2="323.8" stroke="#cdcdcd" stroke-width="0.6"/>
<line x1="233.72" y1="322.34" x2="314.01" y2="326.53" stroke="#cdcdcd" stroke-width="0.6"/>
<line x1="222.77" y1="328.36" x2="290.29" y2="330.73" stroke="#cdcdcd" stroke-width="0.6"/>
<line x1="218.21" y1="332.55" x2="286.64" y2="334.38" stroke="#cdcdcd" stroke-width="0.6"/>
<line x1="235.55" y1="331.46" x2="312.19" y2="335.66" stroke="#cdcdcd" stroke-width="0.6"/>
<line x1="227.39" y1="328.65" x2="314.16" y2="329.99" stroke="#cdcdcd" stroke-width="0.6"/>
<line x1="232.35" y1="312.54" x2="316.91" y2="312.68" stroke="#cdcdcd" stroke-width="0.6"/>
<line x1="237.99" y1="327.05" x2="319.5" y2="328.01" stroke="#cdcdcd" stroke-width="0.6"/>
<line x1="227.98" y1="304.69" x2="302.59" y2="306.11" stroke="#cdcdcd" stroke-width="0.6"/>
<line x1="221.24" y1="317.42" x2="301.68" y2="318.24" stroke="#cdcdcd" stroke-width="0.6"/>
<line x1="221.05" y1="321.35" x2="300.01" y2="321.71" stroke="#cdcdcd" stroke-width="0.6"/>
<line x1="222.03" y1="333.2" x2="309.09" y2="334.8" stroke="#cdcdcd" stroke-width="0.6"/>
<line x1="222.97" y1="318.91" x2="306.31" y2="319.78" stroke="#cdcdcd" stroke-width="0.6"/>
<line x1="227.28" y1="332.05" x2="303.07" y2="333.11" stroke="#cdcdcd" stroke-width="0.6"/>
<line x1="229.68" y1="298.89" x2="302.15" y2="299.11" stroke="#cdcdcd" stroke-width="0.6"/>
<line x1="226.85" y1="318.94" x2="306.62" y2="319" stroke="#cdcdcd" stroke-width="0.6"/>
<line x1="239.02" y1="311.77" x2="313.21" y2="312.1" stroke="#cdcdcd" stroke-width="0.6"/>
<line x1="230.86" y1="298.1" x2="300.68" y2="299.9" stroke="#cdcdcd" stroke-width="0.6"/>
<line x1="233.92" y1="311.84" x2="306.53" y2="312.64" stroke="#cdcdcd" stroke-width="0.6"/>
<line x1="223.34" y1="301.14" x2="319.3" y2="302.09" stroke="#cdcdcd" stroke-width="0.6"/>
<line x1="224.46" y1="311.99" x2="320.29" y2="314.82" stroke="#cdcdcd" stroke-width="0.6"/>
<line x1="237.05" y1="322.19" x2="320.15" y2="322.76" stroke="#cdcdcd" stroke-width="0.6"/>
<line x1="230.35" y1="303.41" x2="308.89" y2="303.48" stroke="#cdcdcd" stroke-width="0.6"/>
<line x1="220.56" y1="314.49" x2="306.99" y2="316.97" stroke="#cdcdcd" stroke-width="0.6"/>
<line x1="228.94" y1="328.52" x2="323.43" y2="331.32" stroke="#cdcdcd" stroke-width="0.6"/>
<line x1="239.1" y1="317.45" x2="309.12" y2="317.86" stroke="#cdcdcd" stroke-width="0.6"/>
<line x1="224.09" y1="321.43" x2="315.6" y2="323.9" stroke="#cdcdcd" stroke-width="0.6"/>
<line x1="236.81" y1="307.42" x2="311.99" y2="307.61" stroke="#cdcdcd" stroke-width="0.6"/>
<line x1="233.21" y1="302.59" x2="322.74" y2="304.69" stroke="#cdcdcd" stroke-width="0.6"/>
<line x1="235" y1="322.82" x2="311.95" y2="323.59" stroke="#cdcdcd" stroke-width="0.6"/>
<line x1="236.02" y1="329.88" x2="324.29" y2="330.93" stroke="#cdcdcd" stroke-width="0.6"/>
<line x1="228.03" y1="315.48" x2="323.67" y2="315.84" stroke="#cdcdcd" stroke-width="0.6"/>
<line x1="223.02" y1="310.02" x2="322.62" y2="312.43" stroke="#cdcdcd" stroke-width="0.6"/>
<line x1="222.92" y1="328.69" x2="320.66" y2="329.72" stroke="#cdcdcd" stroke-width="0.6"/>
<line x1="230.97" y1="314.9" x2="303.27" y2="314.93" stroke="#cdcdcd" stroke-width="0.6"/>
<path d="M218.4,310.7 L223.76,310.86 L229.12,311 L234.48,311.14 L239.84,311.28 L245.2,311.4 L250.56,311.52 L255.92,311.62 L261.28,311.72 L266.64,311.82 L272,311.9 L277.36,311.98 L282.72,312.04 L288.08,312.1 L293.44,312.16 L298.8,312.2 L304.16,312.24 L309.52,312.26 L314.88,312.28 L320.24,312.3 L325.6,312.3 L325.6,315.5 L320.24,315.34 L314.88,315.2 L309.52,315.06 L304.16,314.92 L298.8,314.8 L293.44,314.68 L288.08,314.58 L282.72,314.48 L277.36,314.38 L272,314.3 L266.64,314.22 L261.28,314.16 L255.92,314.1 L250.56,314.04 L245.2,314 L239.84,313.96 L234.48,313.94 L229.12,313.92 L223.76,313.9 L218.4,313.9Z" fill="#fde3ec"/>
<path d="M218.4,311.1 L223.76,311.24 L229.12,311.37 L234.48,311.49 L239.84,311.61 L245.2,311.72 L250.56,311.83 L255.92,311.93 L261.28,312.03 L266.64,312.12 L272,312.2 L277.36,312.28 L282.72,312.35 L288.08,312.41 L293.44,312.47 L298.8,312.52 L304.16,312.57 L309.52,312.61 L314.88,312.65 L320.24,312.68 L325.6,312.7 L325.6,315.1 L320.24,314.96 L314.88,314.83 L309.52,314.71 L304.16,314.59 L298.8,314.48 L293.44,314.37 L288.08,314.27 L282.72,314.17 L277.36,314.08 L272,314 L266.64,313.92 L261.28,313.85 L255.92,313.79 L250.56,313.73 L245.2,313.68 L239.84,313.63 L234.48,313.59 L229.12,313.55 L223.76,313.52 L218.4,313.5Z" fill="#fbc3d8"/>
<path d="M218.4,311.5 L223.76,311.62 L229.12,311.73 L234.48,311.84 L239.84,311.95 L245.2,312.05 L250.56,312.15 L255.92,312.24 L261.28,312.33 L266.64,312.42 L272,312.5 L277.36,312.58 L282.72,312.65 L288.08,312.72 L293.44,312.79 L298.8,312.85 L304.16,312.91 L309.52,312.96 L314.88,313.01 L320.24,313.06 L325.6,313.1 L325.6,314.7 L320.24,314.58 L314.88,314.47 L309.52,314.36 L304.16,314.25 L298.8,314.15 L293.44,314.05 L288.08,313.96 L282.72,313.87 L277.36,313.78 L272,313.7 L266.64,313.62 L261.28,313.55 L255.92,313.48 L250.56,313.41 L245.2,313.35 L239.84,313.29 L234.48,313.24 L229.12,313.19 L223.76,313.14 L218.4,313.1Z" fill="#f7a4c6"/>
<line x1="218.4" y1="312.3" x2="325.6" y2="313.9" stroke="#be158c" stroke-width="1.7"/>
<line x1="213" y1="402.6" x2="331" y2="402.6" stroke="#6e6e6e" stroke-width="1.3"/>
<line x1="220.6" y1="403.2" x2="220.6" y2="406.4" stroke="#333333" stroke-width="1"/>
<line x1="230.36" y1="403.2" x2="230.36" y2="406.4" stroke="#333333" stroke-width="1"/>
<line x1="240.12" y1="403.2" x2="240.12" y2="406.4" stroke="#333333" stroke-width="1"/>
<line x1="249.88" y1="403.2" x2="249.88" y2="406.4" stroke="#333333" stroke-width="1"/>
<line x1="259.64" y1="403.2" x2="259.64" y2="406.4" stroke="#333333" stroke-width="1"/>
<line x1="269.4" y1="403.2" x2="269.4" y2="406.4" stroke="#333333" stroke-width="1"/>
<line x1="279.16" y1="403.2" x2="279.16" y2="406.4" stroke="#333333" stroke-width="1"/>
<line x1="288.92" y1="403.2" x2="288.92" y2="406.4" stroke="#333333" stroke-width="1"/>
<line x1="298.68" y1="403.2" x2="298.68" y2="406.4" stroke="#333333" stroke-width="1"/>
<line x1="308.44" y1="403.2" x2="308.44" y2="406.4" stroke="#333333" stroke-width="1"/>
<line x1="318.2" y1="403.2" x2="318.2" y2="406.4" stroke="#333333" stroke-width="1"/>
<line x1="327.96" y1="403.2" x2="327.96" y2="406.4" stroke="#333333" stroke-width="1"/>
<text x="215.92" y="417.8" font-size="12.2" stroke="#4d4d4d" stroke-width="0.2" stroke-linejoin="round" fill="#4d4d4d" textLength="9.33" lengthAdjust="spacingAndGlyphs">-5</text>
<text x="225.62" y="417.8" font-size="12.2" stroke="#4d4d4d" stroke-width="0.2" stroke-linejoin="round" fill="#4d4d4d" textLength="9.33" lengthAdjust="spacingAndGlyphs">-4</text>
<text x="235.45" y="417.8" font-size="12.2" stroke="#4d4d4d" stroke-width="0.2" stroke-linejoin="round" fill="#4d4d4d" textLength="9.33" lengthAdjust="spacingAndGlyphs">-3</text>
<text x="245.25" y="417.8" font-size="12.2" stroke="#4d4d4d" stroke-width="0.2" stroke-linejoin="round" fill="#4d4d4d" textLength="9.33" lengthAdjust="spacingAndGlyphs">-2</text>
<text x="255" y="417.8" font-size="12.2" stroke="#4d4d4d" stroke-width="0.2" stroke-linejoin="round" fill="#4d4d4d" textLength="9.33" lengthAdjust="spacingAndGlyphs">-1</text>
<text x="266.48" y="417.8" font-size="12.2" stroke="#4d4d4d" stroke-width="0.2" stroke-linejoin="round" fill="#4d4d4d" textLength="5.84" lengthAdjust="spacingAndGlyphs">0</text>
<text x="276.1" y="417.8" font-size="12.2" stroke="#4d4d4d" stroke-width="0.2" stroke-linejoin="round" fill="#4d4d4d" textLength="5.84" lengthAdjust="spacingAndGlyphs">1</text>
<text x="286" y="417.8" font-size="12.2" stroke="#4d4d4d" stroke-width="0.2" stroke-linejoin="round" fill="#4d4d4d" textLength="5.84" lengthAdjust="spacingAndGlyphs">2</text>
<text x="295.79" y="417.8" font-size="12.2" stroke="#4d4d4d" stroke-width="0.2" stroke-linejoin="round" fill="#4d4d4d" textLength="5.84" lengthAdjust="spacingAndGlyphs">3</text>
<text x="305.56" y="417.8" font-size="12.2" stroke="#4d4d4d" stroke-width="0.2" stroke-linejoin="round" fill="#4d4d4d" textLength="5.84" lengthAdjust="spacingAndGlyphs">4</text>
<text x="315.29" y="417.8" font-size="12.2" stroke="#4d4d4d" stroke-width="0.2" stroke-linejoin="round" fill="#4d4d4d" textLength="5.84" lengthAdjust="spacingAndGlyphs">5</text>
<text x="325.01" y="417.8" font-size="12.2" stroke="#4d4d4d" stroke-width="0.2" stroke-linejoin="round" fill="#4d4d4d" textLength="5.84" lengthAdjust="spacingAndGlyphs">6</text>
<line x1="388.72" y1="300.44" x2="440.73" y2="299.16" stroke="#cdcdcd" stroke-width="0.6"/>
<line x1="388.72" y1="303.72" x2="466.28" y2="303.36" stroke="#cdcdcd" stroke-width="0.6"/>
<line x1="381.42" y1="308.28" x2="460.8" y2="308.28" stroke="#cdcdcd" stroke-width="0.6"/>
<line x1="383.25" y1="310.11" x2="468.1" y2="311.39" stroke="#cdcdcd" stroke-width="0.6"/>
<line x1="379.6" y1="313.76" x2="467.19" y2="315.58" stroke="#cdcdcd" stroke-width="0.6"/>
<line x1="385.07" y1="305.55" x2="456.24" y2="304.64" stroke="#cdcdcd" stroke-width="0.6"/>
<line x1="377.77" y1="327.81" x2="464.45" y2="329.27" stroke="#cdcdcd" stroke-width="0.6"/>
<line x1="373.21" y1="332.01" x2="462.63" y2="333.83" stroke="#cdcdcd" stroke-width="0.6"/>
<line x1="381.42" y1="329.27" x2="452.59" y2="332.01" stroke="#cdcdcd" stroke-width="0.6"/>
<line x1="390.55" y1="324.71" x2="456.24" y2="327.45" stroke="#cdcdcd" stroke-width="0.6"/>
<line x1="386.9" y1="338.39" x2="448.03" y2="346.61" stroke="#cdcdcd" stroke-width="0.6"/>
<line x1="382.34" y1="340.22" x2="461.72" y2="379.45" stroke="#cdcdcd" stroke-width="0.6"/>
<line x1="384.16" y1="349.34" x2="464.45" y2="358.83" stroke="#cdcdcd" stroke-width="0.6"/>
<line x1="382.34" y1="354.82" x2="444.38" y2="372.15" stroke="#cdcdcd" stroke-width="0.6"/>
<line x1="389.64" y1="366.68" x2="460.8" y2="381.28" stroke="#cdcdcd" stroke-width="0.6"/>
<line x1="395.11" y1="331.09" x2="463.54" y2="342.96" stroke="#cdcdcd" stroke-width="0.6"/>
<line x1="394.51" y1="299.75" x2="462.99" y2="300.25" stroke="#cdcdcd" stroke-width="0.6"/>
<line x1="392.82" y1="306.51" x2="466.52" y2="306.39" stroke="#cdcdcd" stroke-width="0.6"/>
<line x1="382.28" y1="308.3" x2="455.86" y2="308.33" stroke="#cdcdcd" stroke-width="0.6"/>
<line x1="385.12" y1="312.42" x2="452.62" y2="314.2" stroke="#cdcdcd" stroke-width="0.6"/>
<line x1="384.01" y1="300.24" x2="459.16" y2="300.75" stroke="#cdcdcd" stroke-width="0.6"/>
<line x1="393.6" y1="303.29" x2="460.03" y2="304.04" stroke="#cdcdcd" stroke-width="0.6"/>
<line x1="386.9" y1="305.95" x2="450.37" y2="305.32" stroke="#cdcdcd" stroke-width="0.6"/>
<line x1="391.59" y1="308.66" x2="453.45" y2="309.21" stroke="#cdcdcd" stroke-width="0.6"/>
<line x1="390.33" y1="305.35" x2="461.13" y2="306.21" stroke="#cdcdcd" stroke-width="0.6"/>
<line x1="391.33" y1="311.92" x2="452.12" y2="312.67" stroke="#cdcdcd" stroke-width="0.6"/>
<line x1="382.22" y1="308.21" x2="455.54" y2="309.12" stroke="#cdcdcd" stroke-width="0.6"/>
<line x1="390.92" y1="302.99" x2="468.25" y2="303.58" stroke="#cdcdcd" stroke-width="0.6"/>
<line x1="388.41" y1="301.58" x2="460.11" y2="302.16" stroke="#cdcdcd" stroke-width="0.6"/>
<line x1="387.07" y1="306.53" x2="459.56" y2="308.53" stroke="#cdcdcd" stroke-width="0.6"/>
<line x1="389.89" y1="310.42" x2="467.53" y2="311.38" stroke="#cdcdcd" stroke-width="0.6"/>
<line x1="394.04" y1="307.06" x2="466.8" y2="306.73" stroke="#cdcdcd" stroke-width="0.6"/>
<line x1="376.19" y1="332.09" x2="457.96" y2="333.91" stroke="#cdcdcd" stroke-width="0.6"/>
<line x1="386.05" y1="329.89" x2="464.11" y2="333.56" stroke="#cdcdcd" stroke-width="0.6"/>
<line x1="376.78" y1="327.39" x2="462.89" y2="331.39" stroke="#cdcdcd" stroke-width="0.6"/>
<line x1="391.42" y1="327.22" x2="453.95" y2="330.26" stroke="#cdcdcd" stroke-width="0.6"/>
<line x1="381.17" y1="336.61" x2="458.77" y2="338.54" stroke="#cdcdcd" stroke-width="0.6"/>
<line x1="381.77" y1="328.88" x2="459.28" y2="331.22" stroke="#cdcdcd" stroke-width="0.6"/>
<line x1="377.52" y1="328.94" x2="455.73" y2="331.8" stroke="#cdcdcd" stroke-width="0.6"/>
<line x1="381.93" y1="328.74" x2="450.33" y2="330.79" stroke="#cdcdcd" stroke-width="0.6"/>
<path d="M373.4,314.7 L378.76,315.23 L384.12,315.73 L389.48,316.2 L394.84,316.63 L400.2,317.02 L405.56,317.39 L410.92,317.72 L416.28,318.01 L421.64,318.27 L427,318.5 L432.36,318.69 L437.72,318.85 L443.08,318.98 L448.44,319.07 L453.8,319.12 L459.16,319.15 L464.52,319.14 L469.88,319.09 L475.24,319.01 L480.6,318.9 L480.6,327.9 L475.24,327.37 L469.88,326.87 L464.52,326.4 L459.16,325.97 L453.8,325.57 L448.44,325.21 L443.08,324.88 L437.72,324.59 L432.36,324.33 L427,324.1 L421.64,323.91 L416.28,323.75 L410.92,323.62 L405.56,323.53 L400.2,323.48 L394.84,323.45 L389.48,323.46 L384.12,323.51 L378.76,323.59 L373.4,323.7Z" fill="#e5f4f2"/>
<path d="M373.4,316 L378.76,316.44 L384.12,316.85 L389.48,317.24 L394.84,317.61 L400.2,317.95 L405.56,318.27 L410.92,318.56 L416.28,318.83 L421.64,319.08 L427,319.3 L432.36,319.5 L437.72,319.67 L443.08,319.82 L448.44,319.95 L453.8,320.05 L459.16,320.13 L464.52,320.18 L469.88,320.21 L475.24,320.22 L480.6,320.2 L480.6,326.6 L475.24,326.16 L469.88,325.75 L464.52,325.36 L459.16,324.99 L453.8,324.65 L448.44,324.33 L443.08,324.04 L437.72,323.77 L432.36,323.52 L427,323.3 L421.64,323.1 L416.28,322.93 L410.92,322.78 L405.56,322.65 L400.2,322.55 L394.84,322.47 L389.48,322.42 L384.12,322.39 L378.76,322.38 L373.4,322.4Z" fill="#c8e8e4"/>
<path d="M373.4,317 L378.76,317.36 L384.12,317.71 L389.48,318.04 L394.84,318.35 L400.2,318.65 L405.56,318.93 L410.92,319.2 L416.28,319.45 L421.64,319.68 L427,319.9 L432.36,320.1 L437.72,320.29 L443.08,320.46 L448.44,320.61 L453.8,320.75 L459.16,320.87 L464.52,320.98 L469.88,321.07 L475.24,321.14 L480.6,321.2 L480.6,325.6 L475.24,325.24 L469.88,324.89 L464.52,324.56 L459.16,324.25 L453.8,323.95 L448.44,323.67 L443.08,323.4 L437.72,323.15 L432.36,322.92 L427,322.7 L421.64,322.5 L416.28,322.31 L410.92,322.14 L405.56,321.99 L400.2,321.85 L394.84,321.73 L389.48,321.62 L384.12,321.53 L378.76,321.46 L373.4,321.4Z" fill="#a9dcd5"/>
<line x1="373.4" y1="319.2" x2="480.6" y2="323.4" stroke="#1a9483" stroke-width="1.7"/>
<line x1="368" y1="276.6" x2="368" y2="403.2" stroke="#6e6e6e" stroke-width="1.3"/>
<line x1="364.2" y1="397" x2="367.4" y2="397" stroke="#333333" stroke-width="1"/>
<line x1="364.2" y1="374.1" x2="367.4" y2="374.1" stroke="#333333" stroke-width="1"/>
<line x1="364.2" y1="351.2" x2="367.4" y2="351.2" stroke="#333333" stroke-width="1"/>
<line x1="364.2" y1="328.3" x2="367.4" y2="328.3" stroke="#333333" stroke-width="1"/>
<line x1="364.2" y1="305.4" x2="367.4" y2="305.4" stroke="#333333" stroke-width="1"/>
<line x1="364.2" y1="282.5" x2="367.4" y2="282.5" stroke="#333333" stroke-width="1"/>
<line x1="367.4" y1="402.6" x2="486" y2="402.6" stroke="#6e6e6e" stroke-width="1.3"/>
<line x1="372.3" y1="403.2" x2="372.3" y2="406.4" stroke="#333333" stroke-width="1"/>
<line x1="381.18" y1="403.2" x2="381.18" y2="406.4" stroke="#333333" stroke-width="1"/>
<line x1="390.05" y1="403.2" x2="390.05" y2="406.4" stroke="#333333" stroke-width="1"/>
<line x1="398.93" y1="403.2" x2="398.93" y2="406.4" stroke="#333333" stroke-width="1"/>
<line x1="407.8" y1="403.2" x2="407.8" y2="406.4" stroke="#333333" stroke-width="1"/>
<line x1="416.68" y1="403.2" x2="416.68" y2="406.4" stroke="#333333" stroke-width="1"/>
<line x1="425.55" y1="403.2" x2="425.55" y2="406.4" stroke="#333333" stroke-width="1"/>
<line x1="434.43" y1="403.2" x2="434.43" y2="406.4" stroke="#333333" stroke-width="1"/>
<line x1="443.3" y1="403.2" x2="443.3" y2="406.4" stroke="#333333" stroke-width="1"/>
<line x1="452.18" y1="403.2" x2="452.18" y2="406.4" stroke="#333333" stroke-width="1"/>
<line x1="461.05" y1="403.2" x2="461.05" y2="406.4" stroke="#333333" stroke-width="1"/>
<line x1="469.93" y1="403.2" x2="469.93" y2="406.4" stroke="#333333" stroke-width="1"/>
<line x1="478.8" y1="403.2" x2="478.8" y2="406.4" stroke="#333333" stroke-width="1"/>
<text x="367.63" y="417.8" font-size="12.2" stroke="#4d4d4d" stroke-width="0.2" stroke-linejoin="round" fill="#4d4d4d" textLength="9.33" lengthAdjust="spacingAndGlyphs">-6</text>
<text x="376.5" y="417.8" font-size="12.2" stroke="#4d4d4d" stroke-width="0.2" stroke-linejoin="round" fill="#4d4d4d" textLength="9.33" lengthAdjust="spacingAndGlyphs">-5</text>
<text x="385.31" y="417.8" font-size="12.2" stroke="#4d4d4d" stroke-width="0.2" stroke-linejoin="round" fill="#4d4d4d" textLength="9.33" lengthAdjust="spacingAndGlyphs">-4</text>
<text x="394.26" y="417.8" font-size="12.2" stroke="#4d4d4d" stroke-width="0.2" stroke-linejoin="round" fill="#4d4d4d" textLength="9.33" lengthAdjust="spacingAndGlyphs">-3</text>
<text x="403.17" y="417.8" font-size="12.2" stroke="#4d4d4d" stroke-width="0.2" stroke-linejoin="round" fill="#4d4d4d" textLength="9.33" lengthAdjust="spacingAndGlyphs">-2</text>
<text x="412.03" y="417.8" font-size="12.2" stroke="#4d4d4d" stroke-width="0.2" stroke-linejoin="round" fill="#4d4d4d" textLength="9.33" lengthAdjust="spacingAndGlyphs">-1</text>
<text x="422.63" y="417.8" font-size="12.2" stroke="#4d4d4d" stroke-width="0.2" stroke-linejoin="round" fill="#4d4d4d" textLength="5.84" lengthAdjust="spacingAndGlyphs">0</text>
<text x="431.36" y="417.8" font-size="12.2" stroke="#4d4d4d" stroke-width="0.2" stroke-linejoin="round" fill="#4d4d4d" textLength="5.84" lengthAdjust="spacingAndGlyphs">1</text>
<text x="440.38" y="417.8" font-size="12.2" stroke="#4d4d4d" stroke-width="0.2" stroke-linejoin="round" fill="#4d4d4d" textLength="5.84" lengthAdjust="spacingAndGlyphs">2</text>
<text x="449.29" y="417.8" font-size="12.2" stroke="#4d4d4d" stroke-width="0.2" stroke-linejoin="round" fill="#4d4d4d" textLength="5.84" lengthAdjust="spacingAndGlyphs">3</text>
<text x="458.17" y="417.8" font-size="12.2" stroke="#4d4d4d" stroke-width="0.2" stroke-linejoin="round" fill="#4d4d4d" textLength="5.84" lengthAdjust="spacingAndGlyphs">4</text>
<text x="467.02" y="417.8" font-size="12.2" stroke="#4d4d4d" stroke-width="0.2" stroke-linejoin="round" fill="#4d4d4d" textLength="5.84" lengthAdjust="spacingAndGlyphs">5</text>
<text x="475.85" y="417.8" font-size="12.2" stroke="#4d4d4d" stroke-width="0.2" stroke-linejoin="round" fill="#4d4d4d" textLength="5.84" lengthAdjust="spacingAndGlyphs">6</text>
<line x1="522.85" y1="302.81" x2="566.64" y2="298.25" stroke="#cdcdcd" stroke-width="0.6"/>
<line x1="513.72" y1="306.46" x2="586.72" y2="299.16" stroke="#cdcdcd" stroke-width="0.6"/>
<line x1="508.25" y1="311.93" x2="594.01" y2="302.81" stroke="#cdcdcd" stroke-width="0.6"/>
<line x1="506.42" y1="313.76" x2="595.84" y2="305.55" stroke="#cdcdcd" stroke-width="0.6"/>
<line x1="511.9" y1="316.5" x2="592.19" y2="309.2" stroke="#cdcdcd" stroke-width="0.6"/>
<line x1="504.6" y1="321.06" x2="592.19" y2="314.67" stroke="#cdcdcd" stroke-width="0.6"/>
<line x1="508.25" y1="324.71" x2="589.45" y2="317.41" stroke="#cdcdcd" stroke-width="0.6"/>
<line x1="507.34" y1="327.81" x2="583.07" y2="320.15" stroke="#cdcdcd" stroke-width="0.6"/>
<line x1="499.12" y1="334.74" x2="570.29" y2="327.45" stroke="#cdcdcd" stroke-width="0.6"/>
<line x1="508.25" y1="336.57" x2="585.8" y2="328.36" stroke="#cdcdcd" stroke-width="0.6"/>
<line x1="515.55" y1="338.39" x2="569.38" y2="332.92" stroke="#cdcdcd" stroke-width="0.6"/>
<line x1="513.61" y1="338.46" x2="585.37" y2="333.54" stroke="#cdcdcd" stroke-width="0.6"/>
<line x1="519.52" y1="330.23" x2="573.14" y2="325.43" stroke="#cdcdcd" stroke-width="0.6"/>
<line x1="503.67" y1="320.09" x2="593.37" y2="312.63" stroke="#cdcdcd" stroke-width="0.6"/>
<line x1="518.49" y1="325.37" x2="594.57" y2="318.55" stroke="#cdcdcd" stroke-width="0.6"/>
<line x1="505.54" y1="308.11" x2="597.58" y2="299.24" stroke="#cdcdcd" stroke-width="0.6"/>
<line x1="503.98" y1="314.27" x2="590.65" y2="307.07" stroke="#cdcdcd" stroke-width="0.6"/>
<line x1="504.23" y1="310.19" x2="598.15" y2="301.12" stroke="#cdcdcd" stroke-width="0.6"/>
<line x1="517.56" y1="306.01" x2="572" y2="302.44" stroke="#cdcdcd" stroke-width="0.6"/>
<line x1="510.71" y1="301.1" x2="580.17" y2="294.9" stroke="#cdcdcd" stroke-width="0.6"/>
<line x1="505.2" y1="313.54" x2="585.81" y2="306.25" stroke="#cdcdcd" stroke-width="0.6"/>
<line x1="504.86" y1="326.12" x2="574.84" y2="320" stroke="#cdcdcd" stroke-width="0.6"/>
<line x1="508.19" y1="322.72" x2="592.78" y2="315.25" stroke="#cdcdcd" stroke-width="0.6"/>
<line x1="511.5" y1="318.83" x2="575.34" y2="313.09" stroke="#cdcdcd" stroke-width="0.6"/>
<line x1="503.26" y1="321.95" x2="591.99" y2="315.03" stroke="#cdcdcd" stroke-width="0.6"/>
<line x1="506.22" y1="323.75" x2="584.24" y2="318.51" stroke="#cdcdcd" stroke-width="0.6"/>
<line x1="510.35" y1="317.68" x2="584.85" y2="312.72" stroke="#cdcdcd" stroke-width="0.6"/>
<line x1="509.68" y1="309.96" x2="585.2" y2="303.44" stroke="#cdcdcd" stroke-width="0.6"/>
<line x1="517.15" y1="300.76" x2="591.2" y2="295.24" stroke="#cdcdcd" stroke-width="0.6"/>
<line x1="509.88" y1="325.15" x2="580.43" y2="318.29" stroke="#cdcdcd" stroke-width="0.6"/>
<line x1="515.6" y1="321.58" x2="577.67" y2="315.78" stroke="#cdcdcd" stroke-width="0.6"/>
<line x1="504.44" y1="330.75" x2="595.24" y2="322.7" stroke="#cdcdcd" stroke-width="0.6"/>
<line x1="507.12" y1="309.64" x2="578.79" y2="303.79" stroke="#cdcdcd" stroke-width="0.6"/>
<line x1="505.68" y1="317.36" x2="583.37" y2="312.61" stroke="#cdcdcd" stroke-width="0.6"/>
<line x1="512.3" y1="338" x2="577.33" y2="334" stroke="#cdcdcd" stroke-width="0.6"/>
<line x1="508.26" y1="329.25" x2="580.7" y2="323.38" stroke="#cdcdcd" stroke-width="0.6"/>
<line x1="511.55" y1="319.64" x2="576.03" y2="314.49" stroke="#cdcdcd" stroke-width="0.6"/>
<line x1="503.08" y1="328.79" x2="577.93" y2="321.43" stroke="#cdcdcd" stroke-width="0.6"/>
<line x1="503.38" y1="325.56" x2="579.13" y2="318.69" stroke="#cdcdcd" stroke-width="0.6"/>
<path d="M498.4,316.4 L503.76,315.96 L509.12,315.51 L514.48,315.06 L519.84,314.6 L525.2,314.12 L530.56,313.65 L535.92,313.16 L541.28,312.66 L546.64,312.16 L552,311.65 L557.36,311.13 L562.72,310.6 L568.08,310.07 L573.44,309.53 L578.8,308.97 L584.16,308.42 L589.52,307.85 L594.88,307.27 L600.24,306.69 L605.6,306.1 L605.6,309.3 L600.24,309.74 L594.88,310.19 L589.52,310.64 L584.16,311.1 L578.8,311.57 L573.44,312.05 L568.08,312.54 L562.72,313.04 L557.36,313.54 L552,314.05 L546.64,314.57 L541.28,315.1 L535.92,315.63 L530.56,316.17 L525.2,316.73 L519.84,317.28 L514.48,317.85 L509.12,318.43 L503.76,319.01 L498.4,319.6Z" fill="#e5f4f2"/>
<path d="M498.4,316.8 L503.76,316.34 L509.12,315.88 L514.48,315.41 L519.84,314.93 L525.2,314.45 L530.56,313.96 L535.92,313.47 L541.28,312.97 L546.64,312.46 L552,311.95 L557.36,311.43 L562.72,310.91 L568.08,310.38 L573.44,309.84 L578.8,309.3 L584.16,308.75 L589.52,308.2 L594.88,307.64 L600.24,307.07 L605.6,306.5 L605.6,308.9 L600.24,309.36 L594.88,309.82 L589.52,310.29 L584.16,310.77 L578.8,311.25 L573.44,311.74 L568.08,312.23 L562.72,312.73 L557.36,313.24 L552,313.75 L546.64,314.27 L541.28,314.79 L535.92,315.32 L530.56,315.86 L525.2,316.4 L519.84,316.95 L514.48,317.5 L509.12,318.06 L503.76,318.63 L498.4,319.2Z" fill="#c8e8e4"/>
<path d="M498.4,317.2 L503.76,316.72 L509.12,316.24 L514.48,315.76 L519.84,315.27 L525.2,314.78 L530.56,314.28 L535.92,313.78 L541.28,313.27 L546.64,312.76 L552,312.25 L557.36,311.73 L562.72,311.21 L568.08,310.69 L573.44,310.16 L578.8,309.62 L584.16,309.09 L589.52,308.55 L594.88,308 L600.24,307.45 L605.6,306.9 L605.6,308.5 L600.24,308.98 L594.88,309.46 L589.52,309.94 L584.16,310.43 L578.8,310.92 L573.44,311.42 L568.08,311.92 L562.72,312.43 L557.36,312.94 L552,313.45 L546.64,313.97 L541.28,314.49 L535.92,315.01 L530.56,315.54 L525.2,316.07 L519.84,316.61 L514.48,317.15 L509.12,317.7 L503.76,318.25 L498.4,318.8Z" fill="#a9dcd5"/>
<line x1="498.4" y1="318" x2="605.6" y2="307.7" stroke="#1a9483" stroke-width="1.7"/>
<line x1="493" y1="402.6" x2="611" y2="402.6" stroke="#6e6e6e" stroke-width="1.3"/>
<line x1="497" y1="403.2" x2="497" y2="406.4" stroke="#333333" stroke-width="1"/>
<line x1="505.96" y1="403.2" x2="505.96" y2="406.4" stroke="#333333" stroke-width="1"/>
<line x1="514.92" y1="403.2" x2="514.92" y2="406.4" stroke="#333333" stroke-width="1"/>
<line x1="523.88" y1="403.2" x2="523.88" y2="406.4" stroke="#333333" stroke-width="1"/>
<line x1="532.84" y1="403.2" x2="532.84" y2="406.4" stroke="#333333" stroke-width="1"/>
<line x1="541.8" y1="403.2" x2="541.8" y2="406.4" stroke="#333333" stroke-width="1"/>
<line x1="550.76" y1="403.2" x2="550.76" y2="406.4" stroke="#333333" stroke-width="1"/>
<line x1="559.72" y1="403.2" x2="559.72" y2="406.4" stroke="#333333" stroke-width="1"/>
<line x1="568.68" y1="403.2" x2="568.68" y2="406.4" stroke="#333333" stroke-width="1"/>
<line x1="577.64" y1="403.2" x2="577.64" y2="406.4" stroke="#333333" stroke-width="1"/>
<line x1="586.6" y1="403.2" x2="586.6" y2="406.4" stroke="#333333" stroke-width="1"/>
<line x1="595.56" y1="403.2" x2="595.56" y2="406.4" stroke="#333333" stroke-width="1"/>
<line x1="604.52" y1="403.2" x2="604.52" y2="406.4" stroke="#333333" stroke-width="1"/>
<text x="492.33" y="417.8" font-size="12.2" stroke="#4d4d4d" stroke-width="0.2" stroke-linejoin="round" fill="#4d4d4d" textLength="9.33" lengthAdjust="spacingAndGlyphs">-6</text>
<text x="501.28" y="417.8" font-size="12.2" stroke="#4d4d4d" stroke-width="0.2" stroke-linejoin="round" fill="#4d4d4d" textLength="9.33" lengthAdjust="spacingAndGlyphs">-5</text>
<text x="510.18" y="417.8" font-size="12.2" stroke="#4d4d4d" stroke-width="0.2" stroke-linejoin="round" fill="#4d4d4d" textLength="9.33" lengthAdjust="spacingAndGlyphs">-4</text>
<text x="519.21" y="417.8" font-size="12.2" stroke="#4d4d4d" stroke-width="0.2" stroke-linejoin="round" fill="#4d4d4d" textLength="9.33" lengthAdjust="spacingAndGlyphs">-3</text>
<text x="528.21" y="417.8" font-size="12.2" stroke="#4d4d4d" stroke-width="0.2" stroke-linejoin="round" fill="#4d4d4d" textLength="9.33" lengthAdjust="spacingAndGlyphs">-2</text>
<text x="537.16" y="417.8" font-size="12.2" stroke="#4d4d4d" stroke-width="0.2" stroke-linejoin="round" fill="#4d4d4d" textLength="9.33" lengthAdjust="spacingAndGlyphs">-1</text>
<text x="547.84" y="417.8" font-size="12.2" stroke="#4d4d4d" stroke-width="0.2" stroke-linejoin="round" fill="#4d4d4d" textLength="5.84" lengthAdjust="spacingAndGlyphs">0</text>
<text x="556.66" y="417.8" font-size="12.2" stroke="#4d4d4d" stroke-width="0.2" stroke-linejoin="round" fill="#4d4d4d" textLength="5.84" lengthAdjust="spacingAndGlyphs">1</text>
<text x="565.76" y="417.8" font-size="12.2" stroke="#4d4d4d" stroke-width="0.2" stroke-linejoin="round" fill="#4d4d4d" textLength="5.84" lengthAdjust="spacingAndGlyphs">2</text>
<text x="574.75" y="417.8" font-size="12.2" stroke="#4d4d4d" stroke-width="0.2" stroke-linejoin="round" fill="#4d4d4d" textLength="5.84" lengthAdjust="spacingAndGlyphs">3</text>
<text x="583.72" y="417.8" font-size="12.2" stroke="#4d4d4d" stroke-width="0.2" stroke-linejoin="round" fill="#4d4d4d" textLength="5.84" lengthAdjust="spacingAndGlyphs">4</text>
<text x="592.65" y="417.8" font-size="12.2" stroke="#4d4d4d" stroke-width="0.2" stroke-linejoin="round" fill="#4d4d4d" textLength="5.84" lengthAdjust="spacingAndGlyphs">5</text>
<text x="601.57" y="417.8" font-size="12.2" stroke="#4d4d4d" stroke-width="0.2" stroke-linejoin="round" fill="#4d4d4d" textLength="5.84" lengthAdjust="spacingAndGlyphs">6</text>
<text x="121.41" y="269" font-size="16" font-weight="bold" stroke="#666666" stroke-width="0.5" stroke-linejoin="round" fill="#666666" textLength="50.8" lengthAdjust="spacingAndGlyphs">Path RE</text>
<text x="212.74" y="269" font-size="16" font-weight="bold" stroke="#666666" stroke-width="0.5" stroke-linejoin="round" fill="#666666" textLength="118.14" lengthAdjust="spacingAndGlyphs">Head-direction RE</text>
<text x="401.41" y="269" font-size="16" font-weight="bold" stroke="#666666" stroke-width="0.5" stroke-linejoin="round" fill="#666666" textLength="50.8" lengthAdjust="spacingAndGlyphs">Path RE</text>
<text x="492.74" y="269" font-size="16" font-weight="bold" stroke="#666666" stroke-width="0.5" stroke-linejoin="round" fill="#666666" textLength="118.14" lengthAdjust="spacingAndGlyphs">Head-direction RE</text>
<text x="87.73" y="239.5" font-size="16" stroke="#000" stroke-width="0.2" stroke-linejoin="round" fill="#000" textLength="127.57" lengthAdjust="spacingAndGlyphs">Experiment 2 (N = 60)</text>
<text transform="translate(53.8,419.2) rotate(-90)" x="-1.06" y="0" font-size="16" fill="#000" stroke="#000" stroke-width="0.2" textLength="161.39" lengthAdjust="spacingAndGlyphs">Estimated Roaming Entropy</text>
<text x="86.73" y="434.6" font-size="16" stroke="#000" stroke-width="0.2" stroke-linejoin="round" fill="#000" textLength="245.18" lengthAdjust="spacingAndGlyphs">Curiosity Rating (Individual mean-centred)</text>
<text x="369.58" y="434.6" font-size="16" stroke="#000" stroke-width="0.2" stroke-linejoin="round" fill="#000" textLength="239.24" lengthAdjust="spacingAndGlyphs">Interest Rating (Individual mean-centred)</text>
<text x="633.25" y="151.5" font-size="13.8" stroke="#000" stroke-width="0.2" stroke-linejoin="round" fill="#000" textLength="51.24" lengthAdjust="spacingAndGlyphs">Intervals</text>
<rect x="633.8" y="158.6" width="23.2" height="23.2" fill="#fdecf1"/>
<line x1="636.2" y1="170.2" x2="654.7" y2="170.2" stroke="#d05fb0" stroke-width="1.3"/>
<text x="663.65" y="174.9" font-size="13.5" stroke="#000" stroke-width="0.2" stroke-linejoin="round" fill="#000" textLength="22.97" lengthAdjust="spacingAndGlyphs">93%</text>
<rect x="633.8" y="181.8" width="23.2" height="23.2" fill="#fbcfdf"/>
<line x1="636.2" y1="193.4" x2="654.7" y2="193.4" stroke="#d05fb0" stroke-width="1.3"/>
<text x="663.63" y="198.1" font-size="13.5" stroke="#000" stroke-width="0.2" stroke-linejoin="round" fill="#000" textLength="22.97" lengthAdjust="spacingAndGlyphs">79%</text>
<rect x="633.8" y="205" width="23.2" height="23.2" fill="#f8afcd"/>
<line x1="636.2" y1="216.6" x2="654.7" y2="216.6" stroke="#d05fb0" stroke-width="1.3"/>
<text x="663.63" y="221.3" font-size="13.5" stroke="#000" stroke-width="0.2" stroke-linejoin="round" fill="#000" textLength="22.97" lengthAdjust="spacingAndGlyphs">61%</text>
<rect x="633.8" y="265.6" width="23.2" height="23.2" fill="#eef7f7"/>
<line x1="636.2" y1="277.2" x2="654.7" y2="277.2" stroke="#5bbbb0" stroke-width="1.3"/>
<text x="663.65" y="281.9" font-size="13.5" stroke="#000" stroke-width="0.2" stroke-linejoin="round" fill="#000" textLength="22.97" lengthAdjust="spacingAndGlyphs">93%</text>
<rect x="633.8" y="288.8" width="23.2" height="23.2" fill="#d6edea"/>
<line x1="636.2" y1="300.4" x2="654.7" y2="300.4" stroke="#5bbbb0" stroke-width="1.3"/>
<text x="663.63" y="305.1" font-size="13.5" stroke="#000" stroke-width="0.2" stroke-linejoin="round" fill="#000" textLength="22.97" lengthAdjust="spacingAndGlyphs">79%</text>
<rect x="633.8" y="312" width="23.2" height="23.2" fill="#bfe4df"/>
<line x1="636.2" y1="323.6" x2="654.7" y2="323.6" stroke="#5bbbb0" stroke-width="1.3"/>
<text x="663.63" y="328.3" font-size="13.5" stroke="#000" stroke-width="0.2" stroke-linejoin="round" fill="#000" textLength="22.97" lengthAdjust="spacingAndGlyphs">61%</text>
<line x1="72.5" y1="525.7" x2="72.5" y2="686.3" stroke="#ebebeb" stroke-width="1"/>
<line x1="87.5" y1="525.7" x2="87.5" y2="686.3" stroke="#f2f2f2" stroke-width="1"/>
<line x1="102.5" y1="525.7" x2="102.5" y2="686.3" stroke="#ebebeb" stroke-width="1"/>
<line x1="117.6" y1="525.7" x2="117.6" y2="686.3" stroke="#f2f2f2" stroke-width="1"/>
<line x1="132.7" y1="525.7" x2="132.7" y2="686.3" stroke="#ebebeb" stroke-width="1"/>
<line x1="147.8" y1="525.7" x2="147.8" y2="686.3" stroke="#f2f2f2" stroke-width="1"/>
<line x1="162.9" y1="525.7" x2="162.9" y2="686.3" stroke="#ebebeb" stroke-width="1"/>
<line x1="178.1" y1="525.7" x2="178.1" y2="686.3" stroke="#f2f2f2" stroke-width="1"/>
<line x1="193.4" y1="525.7" x2="193.4" y2="686.3" stroke="#ebebeb" stroke-width="1"/>
<line x1="68.3" y1="587.6" x2="201.9" y2="587.6" stroke="#ebebeb" stroke-width="1"/>
<line x1="68.3" y1="649.3" x2="201.9" y2="649.3" stroke="#ebebeb" stroke-width="1"/>
<line x1="231.1" y1="525.7" x2="231.1" y2="686.3" stroke="#ebebeb" stroke-width="1"/>
<line x1="255.3" y1="525.7" x2="255.3" y2="686.3" stroke="#f2f2f2" stroke-width="1"/>
<line x1="279.6" y1="525.7" x2="279.6" y2="686.3" stroke="#ebebeb" stroke-width="1"/>
<line x1="304.1" y1="525.7" x2="304.1" y2="686.3" stroke="#f2f2f2" stroke-width="1"/>
<line x1="328.6" y1="525.7" x2="328.6" y2="686.3" stroke="#ebebeb" stroke-width="1"/>
<line x1="209.2" y1="587.6" x2="342.6" y2="587.6" stroke="#ebebeb" stroke-width="1"/>
<line x1="209.2" y1="649.3" x2="342.6" y2="649.3" stroke="#ebebeb" stroke-width="1"/>
<line x1="361.2" y1="525.7" x2="361.2" y2="686.3" stroke="#ebebeb" stroke-width="1"/>
<line x1="374.7" y1="525.7" x2="374.7" y2="686.3" stroke="#f2f2f2" stroke-width="1"/>
<line x1="388.2" y1="525.7" x2="388.2" y2="686.3" stroke="#ebebeb" stroke-width="1"/>
<line x1="401.7" y1="525.7" x2="401.7" y2="686.3" stroke="#f2f2f2" stroke-width="1"/>
<line x1="415.1" y1="525.7" x2="415.1" y2="686.3" stroke="#ebebeb" stroke-width="1"/>
<line x1="428.6" y1="525.7" x2="428.6" y2="686.3" stroke="#f2f2f2" stroke-width="1"/>
<line x1="441.9" y1="525.7" x2="441.9" y2="686.3" stroke="#ebebeb" stroke-width="1"/>
<line x1="455.5" y1="525.7" x2="455.5" y2="686.3" stroke="#f2f2f2" stroke-width="1"/>
<line x1="469.2" y1="525.7" x2="469.2" y2="686.3" stroke="#ebebeb" stroke-width="1"/>
<line x1="482.8" y1="525.7" x2="482.8" y2="686.3" stroke="#f2f2f2" stroke-width="1"/>
<line x1="357.5" y1="587.6" x2="491" y2="587.6" stroke="#ebebeb" stroke-width="1"/>
<line x1="357.5" y1="649.3" x2="491" y2="649.3" stroke="#ebebeb" stroke-width="1"/>
<line x1="511.6" y1="525.7" x2="511.6" y2="686.3" stroke="#f2f2f2" stroke-width="1"/>
<line x1="529.9" y1="525.7" x2="529.9" y2="686.3" stroke="#ebebeb" stroke-width="1"/>
<line x1="548.5" y1="525.7" x2="548.5" y2="686.3" stroke="#f2f2f2" stroke-width="1"/>
<line x1="567.1" y1="525.7" x2="567.1" y2="686.3" stroke="#ebebeb" stroke-width="1"/>
<line x1="585.7" y1="525.7" x2="585.7" y2="686.3" stroke="#f2f2f2" stroke-width="1"/>
<line x1="604.4" y1="525.7" x2="604.4" y2="686.3" stroke="#ebebeb" stroke-width="1"/>
<line x1="622.8" y1="525.7" x2="622.8" y2="686.3" stroke="#f2f2f2" stroke-width="1"/>
<line x1="498.6" y1="587.6" x2="631.5" y2="587.6" stroke="#ebebeb" stroke-width="1"/>
<line x1="498.6" y1="649.3" x2="631.5" y2="649.3" stroke="#ebebeb" stroke-width="1"/>
<path d="M101,587.6 L101,587.6 L101.38,587.53 L101.75,587.44 L102.12,587.35 L102.5,587.26 L102.5,587.6Z" fill="#cccccc"/>
<path d="M102.5,587.6 L102.5,587.26 L103.2,587.04 L103.91,586.79 L104.61,586.51 L105.32,586.21 L106.02,585.89 L106.72,585.57 L107.43,585.24 L108.13,584.9 L108.83,584.55 L109.54,584.18 L110.24,583.8 L110.95,583.42 L111.65,583.04 L112.35,582.66 L113.06,582.28 L113.76,581.91 L114.47,581.53 L115.17,581.13 L115.87,580.71 L116.58,580.25 L117.28,579.75 L117.98,579.21 L118.69,578.63 L119.39,578.02 L120.1,577.39 L120.8,576.72 L121.5,575.98 L122.21,575.2 L122.91,574.41 L123.62,573.62 L124.32,572.87 L125.02,572.12 L125.73,571.37 L126.43,570.63 L127.13,569.92 L127.84,569.25 L128.54,568.61 L129.25,567.97 L129.95,567.36 L130.65,566.79 L131.36,566.28 L132.06,565.84 L132.77,565.43 L133.47,565.05 L134.17,564.7 L134.88,564.42 L135.58,564.2 L136.28,564.04 L136.99,563.89 L137.69,563.77 L138.4,563.71 L139.1,563.72 L139.8,563.83 L140.51,564.03 L141.21,564.28 L141.92,564.56 L142.62,564.85 L143.32,565.21 L144.03,565.65 L144.73,566.14 L145.43,566.67 L146.14,567.18 L146.84,567.69 L147.55,568.21 L148.25,568.74 L148.95,569.29 L149.66,569.86 L150.36,570.43 L151.07,571.02 L151.77,571.63 L152.47,572.25 L153.18,572.9 L153.88,573.58 L154.58,574.31 L155.29,575.1 L155.99,575.93 L156.7,576.76 L157.4,577.57 L158.1,578.32 L158.81,579.07 L159.51,579.8 L160.22,580.49 L160.92,581.12 L161.62,581.7 L162.33,582.25 L163.03,582.78 L163.73,583.25 L164.44,583.66 L165.14,584.01 L165.85,584.33 L166.55,584.61 L167.25,584.87 L167.96,585.1 L168.66,585.32 L169.37,585.52 L170.07,585.71 L170.77,585.89 L171.48,586.06 L172.18,586.21 L172.88,586.34 L173.59,586.47 L174.29,586.58 L175,586.7 L175.7,586.81 L176.4,586.91 L177.11,587 L177.81,587.08 L178.52,587.14 L179.22,587.2 L179.92,587.23 L180.63,587.27 L181.33,587.3 L182.03,587.33 L182.74,587.36 L183.44,587.38 L184.15,587.4 L184.85,587.42 L185.55,587.44 L186.26,587.46 L186.96,587.47 L187.67,587.49 L188.37,587.51 L189.07,587.52 L189.78,587.54 L190.48,587.55 L191.18,587.56 L191.89,587.57 L192.59,587.58 L193.3,587.59 L194,587.6 L194,587.6Z" fill="#ff407d"/>
<path d="M228,587.6 L228,587.6 L228.71,587.5 L229.41,587.4 L230.12,587.3 L230.83,587.2 L231.53,587.1 L232.24,587 L232.95,586.91 L233.65,586.82 L234.36,586.73 L235.07,586.65 L235.78,586.58 L236.48,586.51 L237.19,586.44 L237.9,586.36 L238.6,586.26 L239.31,586.15 L240.02,586.02 L240.72,585.84 L241.43,585.62 L242.14,585.37 L242.84,585.1 L243.55,584.8 L244.26,584.48 L244.96,584.11 L245.67,583.69 L246.38,583.22 L247.08,582.72 L247.79,582.18 L248.5,581.62 L249.21,581.01 L249.91,580.34 L250.62,579.62 L251.33,578.86 L252.03,578.06 L252.74,577.23 L253.45,576.34 L254.15,575.4 L254.86,574.42 L255.57,573.4 L256.27,572.31 L256.98,571.15 L257.69,569.94 L258.39,568.69 L259.1,567.45 L259.81,566.21 L260.52,564.96 L261.22,563.7 L261.93,562.43 L262.64,561.15 L263.34,559.88 L264.05,558.61 L264.76,557.32 L265.46,556.04 L266.17,554.77 L266.88,553.51 L267.58,552.25 L268.29,551.01 L269,549.77 L269.7,548.54 L270.41,547.23 L271.12,545.91 L271.82,544.74 L272.53,543.86 L273.24,543.08 L273.95,542.41 L274.65,542.03 L275.36,542.06 L276.07,542.34 L276.77,542.81 L277.48,543.39 L278.19,544.38 L278.89,545.96 L279.6,547.44 L279.6,587.6Z" fill="#cccccc"/>
<path d="M279.6,587.6 L279.6,547.44 L280.31,548.42 L281.01,549.22 L281.72,549.96 L282.43,550.76 L283.14,551.68 L283.84,552.66 L284.55,553.7 L285.26,554.82 L285.96,556.05 L286.67,557.42 L287.38,558.89 L288.08,560.41 L288.79,561.93 L289.5,563.52 L290.21,565.14 L290.91,566.74 L291.62,568.27 L292.33,569.8 L293.03,571.31 L293.74,572.71 L294.45,573.94 L295.15,575.05 L295.86,576.08 L296.57,577.04 L297.28,577.93 L297.98,578.78 L298.69,579.59 L299.4,580.38 L300.1,581.13 L300.81,581.84 L301.52,582.49 L302.22,583.07 L302.93,583.59 L303.64,584.1 L304.35,584.57 L305.05,585.01 L305.76,585.38 L306.47,585.69 L307.17,585.91 L307.88,586.11 L308.59,586.29 L309.29,586.46 L310,586.6 L310.71,586.73 L311.42,586.84 L312.12,586.94 L312.83,587.03 L313.54,587.11 L314.24,587.19 L314.95,587.27 L315.66,587.34 L316.36,587.41 L317.07,587.47 L317.78,587.52 L318.49,587.56 L319.19,587.58 L319.9,587.6 L319.9,587.6Z" fill="#ff407d"/>
<path d="M368,587.6 L368,587.6 L368.7,587.6 L369.41,587.59 L370.11,587.57 L370.82,587.55 L371.52,587.52 L372.22,587.49 L372.93,587.46 L373.63,587.42 L374.33,587.37 L375.04,587.32 L375.74,587.27 L376.45,587.22 L377.15,587.16 L377.85,587.1 L378.56,587.04 L379.26,586.98 L379.96,586.89 L380.67,586.79 L381.37,586.67 L382.08,586.53 L382.78,586.38 L383.48,586.22 L384.19,586.05 L384.89,585.88 L385.6,585.7 L386.3,585.52 L387,585.34 L387.71,585.14 L388.41,584.93 L389.11,584.7 L389.82,584.46 L390.52,584.21 L391.23,583.95 L391.93,583.66 L392.63,583.36 L393.34,583.04 L394.04,582.69 L394.74,582.3 L395.45,581.88 L396.15,581.43 L396.86,580.96 L397.56,580.45 L398.26,579.93 L398.97,579.38 L399.67,578.81 L400.38,578.16 L401.08,577.45 L401.78,576.71 L402.49,575.94 L403.19,575.17 L403.89,574.42 L404.6,573.7 L405.3,572.99 L406.01,572.27 L406.71,571.56 L407.41,570.85 L408.12,570.14 L408.82,569.45 L409.52,568.77 L410.23,568.09 L410.93,567.42 L411.64,566.75 L412.34,566.1 L413.04,565.47 L413.75,564.88 L414.45,564.32 L415.16,563.75 L415.86,563.2 L416.56,562.71 L417.27,562.33 L417.97,562.08 L418.67,561.85 L419.38,561.68 L420.08,561.6 L420.79,561.64 L421.49,561.77 L422.19,561.97 L422.9,562.21 L423.6,562.46 L424.3,562.74 L425.01,563.09 L425.71,563.5 L426.42,563.95 L427.12,564.42 L427.82,564.91 L428.53,565.4 L429.23,565.92 L429.94,566.48 L430.64,567.06 L431.34,567.66 L432.05,568.28 L432.75,568.92 L433.45,569.58 L434.16,570.27 L434.86,570.98 L435.57,571.71 L436.27,572.44 L436.97,573.18 L437.68,573.95 L438.38,574.75 L439.08,575.56 L439.79,576.37 L440.49,577.15 L441.2,577.9 L441.9,578.59 L441.9,587.6Z" fill="#cccccc"/>
<path d="M441.9,587.6 L441.9,578.59 L442.6,579.26 L443.31,579.92 L444.01,580.54 L444.72,581.13 L445.42,581.67 L446.13,582.17 L446.83,582.66 L447.54,583.12 L448.24,583.56 L448.94,583.97 L449.65,584.35 L450.35,584.7 L451.06,585.01 L451.76,585.31 L452.47,585.59 L453.17,585.86 L453.88,586.11 L454.58,586.33 L455.28,586.52 L455.99,586.68 L456.69,586.81 L457.4,586.95 L458.1,587.07 L458.81,587.19 L459.51,587.3 L460.22,587.4 L460.92,587.48 L461.62,587.54 L462.33,587.58 L463.03,587.6 L463.74,587.6 L464.44,587.6 L465.15,587.6 L465.85,587.6 L466.56,587.6 L467.26,587.6 L467.96,587.6 L468.67,587.6 L469.37,587.6 L470.08,587.6 L470.78,587.6 L471.49,587.6 L472.19,587.6 L472.9,587.6 L473.6,587.6 L473.6,587.6Z" fill="#41b7ad"/>
<path d="M529.9,587.6 L529.9,587.4 L530.6,587.24 L531.31,587.05 L532.01,586.84 L532.72,586.62 L533.42,586.38 L534.12,586.12 L534.83,585.85 L535.53,585.57 L536.24,585.26 L536.94,584.93 L537.64,584.56 L538.35,584.16 L539.05,583.7 L539.76,583.14 L540.46,582.48 L541.16,581.74 L541.87,580.95 L542.57,580.12 L543.27,579.26 L543.98,578.34 L544.68,577.34 L545.39,576.29 L546.09,575.19 L546.79,574.06 L547.5,572.91 L548.2,571.69 L548.91,570.43 L549.61,569.12 L550.31,567.79 L551.02,566.44 L551.72,565.07 L552.43,563.66 L553.13,562.21 L553.83,560.75 L554.54,559.3 L555.24,557.9 L555.95,556.54 L556.65,555.18 L557.35,553.83 L558.06,552.52 L558.76,551.28 L559.47,550.15 L560.17,549.1 L560.87,548.04 L561.58,547.06 L562.28,546.23 L562.99,545.66 L563.69,545.31 L564.39,545.03 L565.1,544.9 L565.8,545 L566.5,545.3 L567.21,545.74 L567.91,546.24 L568.62,546.81 L569.32,547.55 L570.02,548.42 L570.73,549.39 L571.43,550.4 L572.14,551.49 L572.84,552.73 L573.54,554.06 L574.25,555.44 L574.95,556.8 L575.66,558.17 L576.36,559.58 L577.06,561.01 L577.77,562.43 L578.47,563.84 L579.18,565.26 L579.88,566.69 L580.58,568.11 L581.29,569.47 L581.99,570.76 L582.7,571.99 L583.4,573.19 L584.1,574.33 L584.81,575.4 L585.51,576.39 L586.21,577.32 L586.92,578.21 L587.62,579.04 L588.33,579.82 L589.03,580.53 L589.73,581.2 L590.44,581.84 L591.14,582.44 L591.85,583 L592.55,583.5 L593.25,583.96 L593.96,584.4 L594.66,584.81 L595.37,585.19 L596.07,585.52 L596.77,585.8 L597.48,586.01 L598.18,586.2 L598.89,586.37 L599.59,586.53 L600.29,586.67 L601,586.8 L601.7,586.9 L602.41,586.97 L603.11,587.03 L603.81,587.08 L604.52,587.13 L605.22,587.17 L605.93,587.21 L606.63,587.24 L607.33,587.27 L608.04,587.3 L608.74,587.32 L609.44,587.35 L610.15,587.37 L610.85,587.4 L611.56,587.42 L612.26,587.44 L612.96,587.46 L613.67,587.48 L614.37,587.5 L615.08,587.52 L615.78,587.54 L616.48,587.55 L617.19,587.57 L617.89,587.58 L618.6,587.59 L619.3,587.6 L619.3,587.6Z" fill="#41b7ad"/>
<path d="M84,649.3 L84,649.3 L84.71,649.3 L85.42,649.29 L86.13,649.27 L86.85,649.26 L87.56,649.24 L88.27,649.22 L88.98,649.19 L89.69,649.17 L90.4,649.13 L91.12,649.09 L91.83,649.04 L92.54,648.99 L93.25,648.93 L93.96,648.86 L94.67,648.79 L95.38,648.7 L96.1,648.58 L96.81,648.44 L97.52,648.28 L98.23,648.11 L98.94,647.92 L99.65,647.69 L100.37,647.41 L101.08,647.1 L101.79,646.76 L102.5,646.36 L102.5,649.3Z" fill="#cccccc"/>
<path d="M102.5,649.3 L102.5,646.36 L103.2,645.9 L103.91,645.38 L104.61,644.83 L105.32,644.25 L106.02,643.65 L106.72,643.03 L107.43,642.4 L108.13,641.74 L108.83,641.05 L109.54,640.32 L110.24,639.54 L110.95,638.69 L111.65,637.72 L112.35,636.65 L113.06,635.52 L113.76,634.37 L114.46,633.23 L115.17,632.15 L115.87,631.09 L116.58,630.03 L117.28,628.99 L117.98,627.95 L118.69,626.92 L119.39,625.91 L120.1,624.89 L120.8,623.85 L121.5,622.83 L122.21,621.87 L122.91,621.01 L123.61,620.2 L124.32,619.35 L125.02,618.74 L125.73,618.62 L126.43,618.85 L127.13,619.27 L127.84,619.76 L128.54,620.23 L129.24,620.75 L129.95,621.34 L130.65,621.96 L131.36,622.6 L132.06,623.23 L132.76,623.84 L133.47,624.46 L134.17,625.12 L134.88,625.86 L135.58,626.7 L136.28,627.77 L136.99,629.04 L137.69,630.39 L138.39,631.69 L139.1,632.95 L139.8,634.24 L140.51,635.49 L141.21,636.66 L141.91,637.74 L142.62,638.79 L143.32,639.79 L144.02,640.73 L144.73,641.59 L145.43,642.38 L146.14,643.15 L146.84,643.86 L147.54,644.51 L148.25,645.07 L148.95,645.51 L149.66,645.91 L150.36,646.27 L151.06,646.6 L151.77,646.89 L152.47,647.14 L153.17,647.35 L153.88,647.54 L154.58,647.72 L155.29,647.89 L155.99,648.04 L156.69,648.18 L157.4,648.3 L158.1,648.41 L158.8,648.5 L159.51,648.58 L160.21,648.66 L160.92,648.74 L161.62,648.81 L162.32,648.88 L163.03,648.94 L163.73,649 L164.44,649.05 L165.14,649.1 L165.84,649.14 L166.55,649.17 L167.25,649.19 L167.95,649.21 L168.66,649.22 L169.36,649.23 L170.07,649.24 L170.77,649.26 L171.47,649.27 L172.18,649.27 L172.88,649.28 L173.58,649.29 L174.29,649.29 L174.99,649.3 L175.7,649.3 L176.4,649.3 L176.4,649.3Z" fill="#ff407d"/>
<path d="M230,649.3 L230,649.3 L230.71,649.3 L231.42,649.29 L232.13,649.27 L232.83,649.24 L233.54,649.22 L234.25,649.19 L234.96,649.15 L235.67,649.11 L236.38,649.07 L237.09,649.01 L237.79,648.93 L238.5,648.84 L239.21,648.73 L239.92,648.62 L240.63,648.49 L241.34,648.35 L242.05,648.19 L242.75,648 L243.46,647.77 L244.17,647.5 L244.88,647.2 L245.59,646.84 L246.3,646.35 L247.01,645.76 L247.71,645.1 L248.42,644.39 L249.13,643.66 L249.84,642.9 L250.55,642.08 L251.26,641.19 L251.97,640.21 L252.67,639.13 L253.38,637.92 L254.09,636.5 L254.8,634.89 L255.51,633.15 L256.22,631.36 L256.93,629.46 L257.63,627.42 L258.34,625.26 L259.05,623.01 L259.76,620.59 L260.47,618.03 L261.18,615.45 L261.89,612.91 L262.59,610.3 L263.3,607.73 L264.01,605.37 L264.72,603.21 L265.43,601.15 L266.14,599.3 L266.85,597.82 L267.55,596.53 L268.26,595.38 L268.97,594.56 L269.68,594.21 L270.39,594.02 L271.1,593.91 L271.81,593.99 L272.51,594.47 L273.22,595.13 L273.93,595.88 L274.64,596.86 L275.35,598.02 L276.06,599.31 L276.77,600.84 L277.47,602.64 L278.18,604.64 L278.89,607.03 L279.6,609.3 L279.6,649.3Z" fill="#cccccc"/>
<path d="M279.6,649.3 L279.6,609.3 L280.31,611.07 L281.02,612.65 L281.74,614.42 L282.45,616.77 L283.16,619.61 L283.87,622.48 L284.58,625.33 L285.3,628.16 L286.01,630.71 L286.72,633.08 L287.43,635.29 L288.14,637.26 L288.85,638.97 L289.57,640.54 L290.28,641.92 L290.99,643.05 L291.7,643.96 L292.41,644.77 L293.13,645.5 L293.84,646.12 L294.55,646.63 L295.26,647.04 L295.97,647.38 L296.69,647.69 L297.4,647.95 L298.11,648.17 L298.82,648.36 L299.53,648.52 L300.25,648.67 L300.96,648.81 L301.67,648.93 L302.38,649.04 L303.09,649.12 L303.8,649.18 L304.52,649.21 L305.23,649.23 L305.94,649.25 L306.65,649.27 L307.36,649.28 L308.08,649.29 L308.79,649.3 L309.5,649.3 L309.5,649.3Z" fill="#ff407d"/>
<path d="M385,649.3 L385,649.3 L385.7,649.3 L386.4,649.29 L387.11,649.27 L387.81,649.26 L388.51,649.23 L389.21,649.2 L389.92,649.17 L390.62,649.13 L391.32,649.09 L392.02,649.04 L392.73,648.99 L393.43,648.94 L394.13,648.88 L394.83,648.82 L395.54,648.75 L396.24,648.69 L396.94,648.59 L397.64,648.46 L398.35,648.3 L399.05,648.12 L399.75,647.91 L400.45,647.69 L401.16,647.46 L401.86,647.21 L402.56,646.95 L403.26,646.65 L403.97,646.32 L404.67,645.95 L405.37,645.56 L406.07,645.14 L406.78,644.7 L407.48,644.22 L408.18,643.7 L408.88,643.13 L409.59,642.51 L410.29,641.83 L410.99,641.07 L411.69,640.15 L412.4,639.08 L413.1,637.93 L413.8,636.74 L414.5,635.58 L415.21,634.49 L415.91,633.41 L416.61,632.34 L417.31,631.26 L418.02,630.21 L418.72,629.17 L419.42,628.17 L420.12,627.2 L420.83,626.27 L421.53,625.35 L422.23,624.44 L422.93,623.54 L423.64,622.62 L424.34,621.62 L425.04,620.5 L425.74,619.38 L426.45,618.41 L427.15,617.74 L427.85,617.41 L428.55,617.17 L429.26,617.02 L429.96,617.02 L430.66,617.18 L431.36,617.44 L432.07,617.76 L432.77,618.08 L433.47,618.44 L434.17,618.87 L434.88,619.38 L435.58,619.97 L436.28,620.75 L436.98,621.72 L437.69,622.79 L438.39,623.88 L439.09,624.99 L439.79,626.17 L440.5,627.39 L441.2,628.61 L441.9,629.8 L441.9,649.3Z" fill="#cccccc"/>
<path d="M441.9,649.3 L441.9,629.8 L442.61,630.96 L443.33,632.1 L444.04,633.23 L444.76,634.4 L445.47,635.63 L446.19,636.95 L446.9,638.27 L447.62,639.48 L448.33,640.53 L449.05,641.52 L449.76,642.45 L450.48,643.29 L451.19,644.02 L451.91,644.65 L452.62,645.23 L453.34,645.76 L454.06,646.24 L454.77,646.67 L455.49,647.02 L456.2,647.32 L456.91,647.58 L457.63,647.84 L458.34,648.07 L459.06,648.27 L459.77,648.46 L460.49,648.61 L461.2,648.73 L461.92,648.81 L462.63,648.88 L463.35,648.95 L464.06,649.01 L464.78,649.06 L465.5,649.11 L466.21,649.16 L466.93,649.2 L467.64,649.24 L468.36,649.26 L469.07,649.28 L469.79,649.3 L470.5,649.3 L470.5,649.3Z" fill="#41b7ad"/>
<path d="M530,649.3 L530,649.3 L530.7,649.3 L531.4,649.29 L532.11,649.27 L532.81,649.25 L533.51,649.22 L534.21,649.18 L534.92,649.14 L535.62,649.1 L536.32,649.05 L537.02,649 L537.73,648.95 L538.43,648.89 L539.13,648.83 L539.83,648.77 L540.54,648.68 L541.24,648.58 L541.94,648.45 L542.64,648.3 L543.35,648.14 L544.05,647.97 L544.75,647.79 L545.45,647.58 L546.16,647.34 L546.86,647.06 L547.56,646.74 L548.26,646.39 L548.97,646 L549.67,645.56 L550.37,645 L551.07,644.34 L551.78,643.59 L552.48,642.78 L553.18,641.92 L553.88,640.99 L554.59,639.95 L555.29,638.81 L555.99,637.58 L556.69,636.28 L557.4,634.91 L558.1,633.41 L558.8,631.78 L559.5,630.04 L560.21,628.19 L560.91,626.24 L561.61,624.1 L562.31,621.82 L563.02,619.48 L563.72,617.16 L564.42,614.84 L565.12,612.45 L565.83,610.08 L566.53,607.81 L567.23,605.73 L567.93,603.69 L568.64,601.71 L569.34,599.91 L570.04,598.38 L570.74,597.1 L571.45,595.84 L572.15,594.83 L572.85,594.32 L573.55,594.33 L574.26,594.44 L574.96,594.62 L575.66,595.25 L576.36,596.46 L577.07,597.98 L577.77,599.6 L578.47,601.63 L579.17,604.04 L579.88,606.57 L580.58,609.01 L581.28,611.52 L581.98,614.06 L582.69,616.51 L583.39,618.88 L584.09,621.23 L584.79,623.51 L585.5,625.67 L586.2,627.67 L586.9,629.53 L587.6,631.3 L588.31,632.96 L589.01,634.5 L589.71,635.91 L590.41,637.26 L591.12,638.55 L591.82,639.74 L592.52,640.83 L593.22,641.8 L593.93,642.68 L594.63,643.52 L595.33,644.31 L596.03,645.03 L596.74,645.66 L597.44,646.2 L598.14,646.64 L598.84,647.03 L599.55,647.38 L600.25,647.7 L600.95,647.97 L601.65,648.2 L602.36,648.37 L603.06,648.51 L603.76,648.63 L604.46,648.75 L605.17,648.85 L605.87,648.94 L606.57,649.03 L607.27,649.09 L607.98,649.15 L608.68,649.18 L609.38,649.21 L610.08,649.23 L610.79,649.25 L611.49,649.26 L612.19,649.27 L612.89,649.29 L613.6,649.29 L614.3,649.3 L615,649.3 L615,649.3Z" fill="#41b7ad"/>
<line x1="102.5" y1="526" x2="102.5" y2="686.7" stroke="#000" stroke-width="1.6" stroke-dasharray="7.4,7.88"/>
<line x1="279.6" y1="526" x2="279.6" y2="686.7" stroke="#000" stroke-width="1.6" stroke-dasharray="7.4,7.88"/>
<line x1="441.9" y1="526" x2="441.9" y2="686.7" stroke="#000" stroke-width="1.6" stroke-dasharray="7.4,7.88"/>
<line x1="529.9" y1="526" x2="529.9" y2="686.7" stroke="#000" stroke-width="1.6" stroke-dasharray="7.4,7.88"/>
<line x1="110.8" y1="587.6" x2="164.7" y2="587.6" stroke="#000" stroke-width="2"/>
<line x1="124" y1="587.6" x2="152.6" y2="587.6" stroke="#000" stroke-width="4"/>
<circle cx="138.1" cy="587.6" r="4.6" fill="#000"/>
<line x1="251.5" y1="587.6" x2="299" y2="587.6" stroke="#000" stroke-width="2"/>
<line x1="262.4" y1="587.6" x2="287" y2="587.6" stroke="#000" stroke-width="4"/>
<circle cx="274.9" cy="587.6" r="4.6" fill="#000"/>
<line x1="392.5" y1="587.6" x2="447.7" y2="587.6" stroke="#000" stroke-width="2"/>
<line x1="405.3" y1="587.6" x2="434.6" y2="587.6" stroke="#000" stroke-width="4"/>
<circle cx="420.4" cy="587.6" r="4.6" fill="#000"/>
<line x1="543" y1="587.6" x2="588.4" y2="587.6" stroke="#000" stroke-width="2"/>
<line x1="553.4" y1="587.6" x2="576.3" y2="587.6" stroke="#000" stroke-width="4"/>
<circle cx="565.4" cy="587.6" r="4.6" fill="#000"/>
<line x1="102.7" y1="649.3" x2="145.8" y2="649.3" stroke="#000" stroke-width="2"/>
<line x1="116.5" y1="649.3" x2="137.7" y2="649.3" stroke="#000" stroke-width="4"/>
<circle cx="126.3" cy="649.3" r="4.6" fill="#000"/>
<line x1="253" y1="649.3" x2="289.6" y2="649.3" stroke="#000" stroke-width="2"/>
<line x1="261.8" y1="649.3" x2="280.8" y2="649.3" stroke="#000" stroke-width="4"/>
<circle cx="271.2" cy="649.3" r="4.6" fill="#000"/>
<line x1="408.3" y1="649.3" x2="450.6" y2="649.3" stroke="#000" stroke-width="2"/>
<line x1="418.4" y1="649.3" x2="441.8" y2="649.3" stroke="#000" stroke-width="4"/>
<circle cx="429.3" cy="649.3" r="4.6" fill="#000"/>
<line x1="555.2" y1="649.3" x2="591" y2="649.3" stroke="#000" stroke-width="2"/>
<line x1="564" y1="649.3" x2="582.8" y2="649.3" stroke="#000" stroke-width="4"/>
<circle cx="573.2" cy="649.3" r="4.6" fill="#000"/>
<text x="109.75" y="518.2" font-size="16" font-weight="bold" stroke="#666666" stroke-width="0.5" stroke-linejoin="round" fill="#666666" textLength="51.32" lengthAdjust="spacingAndGlyphs">Path RE</text>
<text x="217.14" y="518.2" font-size="16" font-weight="bold" stroke="#666666" stroke-width="0.5" stroke-linejoin="round" fill="#666666" textLength="118.14" lengthAdjust="spacingAndGlyphs">Head-direction RE</text>
<text x="398.9" y="518.2" font-size="16" font-weight="bold" stroke="#666666" stroke-width="0.5" stroke-linejoin="round" fill="#666666" textLength="51.32" lengthAdjust="spacingAndGlyphs">Path RE</text>
<text x="506.29" y="518.2" font-size="16" font-weight="bold" stroke="#666666" stroke-width="0.5" stroke-linejoin="round" fill="#666666" textLength="118.14" lengthAdjust="spacingAndGlyphs">Head-direction RE</text>
<text x="0.45" y="592" font-size="11.8" stroke="#4d4d4d" stroke-width="0.2" stroke-linejoin="round" fill="#4d4d4d" textLength="60.75" lengthAdjust="spacingAndGlyphs">Experiment 1</text>
<text x="0.45" y="654" font-size="11.8" stroke="#4d4d4d" stroke-width="0.2" stroke-linejoin="round" fill="#4d4d4d" textLength="61.38" lengthAdjust="spacingAndGlyphs">Experiment 2</text>
<text transform="translate(74.9,697.1) rotate(-30)" x="-14.89" y="4.2" font-size="12.2" fill="#4d4d4d" stroke="#4d4d4d" stroke-width="0.2" textLength="29.75" lengthAdjust="spacingAndGlyphs">-0.005</text>
<text transform="translate(104.9,697.1) rotate(-30)" x="-13.13" y="4.2" font-size="12.2" fill="#4d4d4d" stroke="#4d4d4d" stroke-width="0.2" textLength="26.26" lengthAdjust="spacingAndGlyphs">0.000</text>
<text transform="translate(135.1,697.1) rotate(-30)" x="-13.11" y="4.2" font-size="12.2" fill="#4d4d4d" stroke="#4d4d4d" stroke-width="0.2" textLength="26.26" lengthAdjust="spacingAndGlyphs">0.005</text>
<text transform="translate(165.3,697.1) rotate(-30)" x="-13.13" y="4.2" font-size="12.2" fill="#4d4d4d" stroke="#4d4d4d" stroke-width="0.2" textLength="26.26" lengthAdjust="spacingAndGlyphs">0.010</text>
<text transform="translate(195.8,697.1) rotate(-30)" x="-13.11" y="4.2" font-size="12.2" fill="#4d4d4d" stroke="#4d4d4d" stroke-width="0.2" textLength="26.26" lengthAdjust="spacingAndGlyphs">0.015</text>
<text transform="translate(233.5,697.1) rotate(-30)" x="-14.89" y="4.2" font-size="12.2" fill="#4d4d4d" stroke="#4d4d4d" stroke-width="0.2" textLength="29.75" lengthAdjust="spacingAndGlyphs">-0.005</text>
<text transform="translate(282,697.1) rotate(-30)" x="-13.13" y="4.2" font-size="12.2" fill="#4d4d4d" stroke="#4d4d4d" stroke-width="0.2" textLength="26.26" lengthAdjust="spacingAndGlyphs">0.000</text>
<text transform="translate(331,697.1) rotate(-30)" x="-13.11" y="4.2" font-size="12.2" fill="#4d4d4d" stroke="#4d4d4d" stroke-width="0.2" textLength="26.26" lengthAdjust="spacingAndGlyphs">0.005</text>
<text transform="translate(363.6,697.1) rotate(-30)" x="-14.89" y="4.2" font-size="12.2" fill="#4d4d4d" stroke="#4d4d4d" stroke-width="0.2" textLength="29.75" lengthAdjust="spacingAndGlyphs">-0.015</text>
<text transform="translate(390.6,697.1) rotate(-30)" x="-14.9" y="4.2" font-size="12.2" fill="#4d4d4d" stroke="#4d4d4d" stroke-width="0.2" textLength="29.75" lengthAdjust="spacingAndGlyphs">-0.010</text>
<text transform="translate(417.5,697.1) rotate(-30)" x="-14.89" y="4.2" font-size="12.2" fill="#4d4d4d" stroke="#4d4d4d" stroke-width="0.2" textLength="29.75" lengthAdjust="spacingAndGlyphs">-0.005</text>
<text transform="translate(444.3,697.1) rotate(-30)" x="-13.13" y="4.2" font-size="12.2" fill="#4d4d4d" stroke="#4d4d4d" stroke-width="0.2" textLength="26.26" lengthAdjust="spacingAndGlyphs">0.000</text>
<text transform="translate(471.6,697.1) rotate(-30)" x="-13.11" y="4.2" font-size="12.2" fill="#4d4d4d" stroke="#4d4d4d" stroke-width="0.2" textLength="26.26" lengthAdjust="spacingAndGlyphs">0.005</text>
<text transform="translate(532.3,697.1) rotate(-30)" x="-13.13" y="4.2" font-size="12.2" fill="#4d4d4d" stroke="#4d4d4d" stroke-width="0.2" textLength="26.26" lengthAdjust="spacingAndGlyphs">0.000</text>
<text transform="translate(569.5,697.1) rotate(-30)" x="-13.11" y="4.2" font-size="12.2" fill="#4d4d4d" stroke="#4d4d4d" stroke-width="0.2" textLength="26.26" lengthAdjust="spacingAndGlyphs">0.005</text>
<text transform="translate(606.8,697.1) rotate(-30)" x="-13.13" y="4.2" font-size="12.2" fill="#4d4d4d" stroke="#4d4d4d" stroke-width="0.2" textLength="26.26" lengthAdjust="spacingAndGlyphs">0.010</text>
<text x="133.64" y="731.8" font-size="14.5" stroke="#000" stroke-width="0.2" stroke-linejoin="round" fill="#000" textLength="144.1" lengthAdjust="spacingAndGlyphs">Weight of Curisity Rating</text>
<text x="422.74" y="731.8" font-size="14.5" stroke="#000" stroke-width="0.2" stroke-linejoin="round" fill="#000" textLength="143.9" lengthAdjust="spacingAndGlyphs">Weight of Interest Rating</text>
</svg></body></html>
